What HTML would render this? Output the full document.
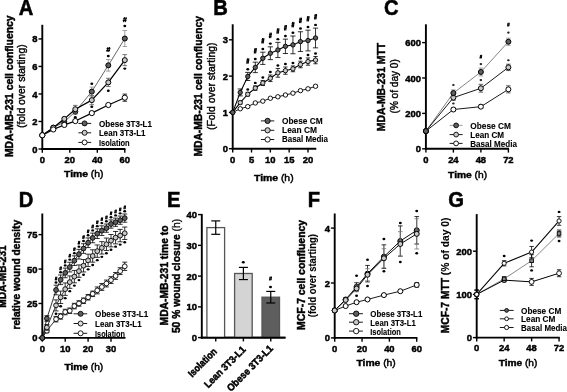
<!DOCTYPE html>
<html><head><meta charset="utf-8"><title>Figure</title>
<style>html,body{margin:0;padding:0;background:#fff;width:567px;height:392px;overflow:hidden}
svg{display:block;font-family:"Liberation Sans",sans-serif;filter:grayscale(1) blur(0.3px)}</style></head>
<body>
<svg width="567" height="392" viewBox="0 0 567 392" font-family='"Liberation Sans", sans-serif'>
<rect width="567" height="392" fill="#fff"/>
<text x="18.8" y="14.6" font-size="21.8" font-weight="bold" text-anchor="start" stroke="#000" stroke-width="0.55" textLength="14.58" lengthAdjust="spacingAndGlyphs" fill="#000">A</text>
<line x1="42.3" y1="24.8" x2="42.3" y2="149.95" stroke="#000" stroke-width="1.9"/>
<line x1="41.35" y1="149" x2="125.4" y2="149" stroke="#000" stroke-width="1.9"/>
<line x1="38.5" y1="149" x2="42.3" y2="149" stroke="#000" stroke-width="1.4"/>
<text x="37.5" y="152.56" font-size="9.5" font-weight="bold" text-anchor="end" stroke="#000" stroke-width="0.45" textLength="5.25" lengthAdjust="spacingAndGlyphs" fill="#000">0</text>
<line x1="38.5" y1="121.48" x2="42.3" y2="121.48" stroke="#000" stroke-width="1.4"/>
<text x="37.5" y="125.04" font-size="9.5" font-weight="bold" text-anchor="end" stroke="#000" stroke-width="0.45" textLength="5.25" lengthAdjust="spacingAndGlyphs" fill="#000">2</text>
<line x1="38.5" y1="93.96" x2="42.3" y2="93.96" stroke="#000" stroke-width="1.4"/>
<text x="37.5" y="97.52" font-size="9.5" font-weight="bold" text-anchor="end" stroke="#000" stroke-width="0.45" textLength="5.25" lengthAdjust="spacingAndGlyphs" fill="#000">4</text>
<line x1="38.5" y1="66.44" x2="42.3" y2="66.44" stroke="#000" stroke-width="1.4"/>
<text x="37.5" y="70" font-size="9.5" font-weight="bold" text-anchor="end" stroke="#000" stroke-width="0.45" textLength="5.25" lengthAdjust="spacingAndGlyphs" fill="#000">6</text>
<line x1="38.5" y1="38.92" x2="42.3" y2="38.92" stroke="#000" stroke-width="1.4"/>
<text x="37.5" y="42.48" font-size="9.5" font-weight="bold" text-anchor="end" stroke="#000" stroke-width="0.45" textLength="5.25" lengthAdjust="spacingAndGlyphs" fill="#000">8</text>
<line x1="42.3" y1="149" x2="42.3" y2="152.8" stroke="#000" stroke-width="1.4"/>
<text x="42.3" y="162.8" font-size="9.8" font-weight="bold" text-anchor="middle" stroke="#000" stroke-width="0.45" textLength="5.25" lengthAdjust="spacingAndGlyphs" fill="#000">0</text>
<line x1="69.8" y1="149" x2="69.8" y2="152.8" stroke="#000" stroke-width="1.4"/>
<text x="69.8" y="162.8" font-size="9.8" font-weight="bold" text-anchor="middle" stroke="#000" stroke-width="0.45" textLength="10.5" lengthAdjust="spacingAndGlyphs" fill="#000">20</text>
<line x1="97.3" y1="149" x2="97.3" y2="152.8" stroke="#000" stroke-width="1.4"/>
<text x="97.3" y="162.8" font-size="9.8" font-weight="bold" text-anchor="middle" stroke="#000" stroke-width="0.45" textLength="10.5" lengthAdjust="spacingAndGlyphs" fill="#000">40</text>
<line x1="124.8" y1="149" x2="124.8" y2="152.8" stroke="#000" stroke-width="1.4"/>
<text x="124.8" y="162.8" font-size="9.8" font-weight="bold" text-anchor="middle" stroke="#000" stroke-width="0.45" textLength="10.5" lengthAdjust="spacingAndGlyphs" fill="#000">60</text>
<text x="13.2" y="86.3" font-size="10.3" font-weight="bold" text-anchor="middle" stroke="#000" stroke-width="0.45" textLength="141.6" lengthAdjust="spacingAndGlyphs" transform="rotate(-90 13.2 86.3)" fill="#000">MDA-MB-231 cell confluency</text>
<text x="25.1" y="86.2" font-size="10.3" font-weight="normal" text-anchor="middle" stroke="#000" stroke-width="0.4" textLength="83.6" lengthAdjust="spacingAndGlyphs" transform="rotate(-90 25.1 86.2)" fill="#000">(fold over starting)</text>
<text x="83.8" y="176.8" font-size="9.6" text-anchor="middle" textLength="39.4" lengthAdjust="spacingAndGlyphs"><tspan font-weight="bold" stroke="#000" stroke-width="0.45">Time</tspan><tspan font-weight="normal" stroke="#000" stroke-width="0.45"> (h)</tspan></text>
<polyline points="42.3,135.24 53.3,127.67 64.3,121.89 75.3,111.57 91.8,91.62 108.3,65.34 124.8,38.51" fill="none" stroke="#222" stroke-width="0.7" stroke-linejoin="round"/>
<polyline points="42.3,135.24 53.3,127.67 64.3,118.87 75.3,109.23 91.8,100.15 108.3,82.4 124.8,60.11" fill="none" stroke="#000" stroke-width="1.3" stroke-linejoin="round"/>
<polyline points="42.3,135.24 53.3,129.46 64.3,124.92 75.3,121.07 91.8,113.09 108.3,104.97 124.8,97.68" fill="none" stroke="#000" stroke-width="1.2" stroke-linejoin="round"/>
<line x1="53.3" y1="126.57" x2="53.3" y2="128.77" stroke="#8a8a8a" stroke-width="0.8"/>
<line x1="51" y1="126.57" x2="55.6" y2="126.57" stroke="#8a8a8a" stroke-width="0.8"/>
<line x1="51" y1="128.77" x2="55.6" y2="128.77" stroke="#8a8a8a" stroke-width="0.8"/>
<line x1="64.3" y1="119.83" x2="64.3" y2="123.96" stroke="#8a8a8a" stroke-width="0.8"/>
<line x1="62" y1="119.83" x2="66.6" y2="119.83" stroke="#8a8a8a" stroke-width="0.8"/>
<line x1="62" y1="123.96" x2="66.6" y2="123.96" stroke="#8a8a8a" stroke-width="0.8"/>
<line x1="75.3" y1="108.82" x2="75.3" y2="114.32" stroke="#8a8a8a" stroke-width="0.8"/>
<line x1="73" y1="108.82" x2="77.6" y2="108.82" stroke="#8a8a8a" stroke-width="0.8"/>
<line x1="73" y1="114.32" x2="77.6" y2="114.32" stroke="#8a8a8a" stroke-width="0.8"/>
<line x1="91.8" y1="87.08" x2="91.8" y2="96.16" stroke="#8a8a8a" stroke-width="0.8"/>
<line x1="89.5" y1="87.08" x2="94.1" y2="87.08" stroke="#8a8a8a" stroke-width="0.8"/>
<line x1="89.5" y1="96.16" x2="94.1" y2="96.16" stroke="#8a8a8a" stroke-width="0.8"/>
<line x1="108.3" y1="59.56" x2="108.3" y2="71.12" stroke="#8a8a8a" stroke-width="0.8"/>
<line x1="106" y1="59.56" x2="110.6" y2="59.56" stroke="#8a8a8a" stroke-width="0.8"/>
<line x1="106" y1="71.12" x2="110.6" y2="71.12" stroke="#8a8a8a" stroke-width="0.8"/>
<line x1="124.8" y1="30.53" x2="124.8" y2="46.49" stroke="#8a8a8a" stroke-width="0.8"/>
<line x1="122.5" y1="30.53" x2="127.1" y2="30.53" stroke="#8a8a8a" stroke-width="0.8"/>
<line x1="122.5" y1="46.49" x2="127.1" y2="46.49" stroke="#8a8a8a" stroke-width="0.8"/>
<circle cx="42.3" cy="135.24" r="2.5" fill="#5f5f5f" stroke="#000" stroke-width="1"/>
<circle cx="53.3" cy="127.67" r="2.5" fill="#5f5f5f" stroke="#000" stroke-width="1"/>
<circle cx="64.3" cy="121.89" r="2.5" fill="#5f5f5f" stroke="#000" stroke-width="1"/>
<circle cx="75.3" cy="111.57" r="2.5" fill="#5f5f5f" stroke="#000" stroke-width="1"/>
<circle cx="91.8" cy="91.62" r="2.5" fill="#5f5f5f" stroke="#000" stroke-width="1"/>
<circle cx="108.3" cy="65.34" r="2.5" fill="#5f5f5f" stroke="#000" stroke-width="1"/>
<circle cx="124.8" cy="38.51" r="2.5" fill="#5f5f5f" stroke="#000" stroke-width="1"/>
<line x1="53.3" y1="126.57" x2="53.3" y2="128.77" stroke="#555" stroke-width="0.8"/>
<line x1="51" y1="126.57" x2="55.6" y2="126.57" stroke="#555" stroke-width="0.8"/>
<line x1="51" y1="128.77" x2="55.6" y2="128.77" stroke="#555" stroke-width="0.8"/>
<line x1="64.3" y1="117.21" x2="64.3" y2="120.52" stroke="#555" stroke-width="0.8"/>
<line x1="62" y1="117.21" x2="66.6" y2="117.21" stroke="#555" stroke-width="0.8"/>
<line x1="62" y1="120.52" x2="66.6" y2="120.52" stroke="#555" stroke-width="0.8"/>
<line x1="75.3" y1="105.38" x2="75.3" y2="113.09" stroke="#555" stroke-width="0.8"/>
<line x1="73" y1="105.38" x2="77.6" y2="105.38" stroke="#555" stroke-width="0.8"/>
<line x1="73" y1="113.09" x2="77.6" y2="113.09" stroke="#555" stroke-width="0.8"/>
<line x1="91.8" y1="95.61" x2="91.8" y2="104.69" stroke="#555" stroke-width="0.8"/>
<line x1="89.5" y1="95.61" x2="94.1" y2="95.61" stroke="#555" stroke-width="0.8"/>
<line x1="89.5" y1="104.69" x2="94.1" y2="104.69" stroke="#555" stroke-width="0.8"/>
<line x1="108.3" y1="78.27" x2="108.3" y2="86.53" stroke="#555" stroke-width="0.8"/>
<line x1="106" y1="78.27" x2="110.6" y2="78.27" stroke="#555" stroke-width="0.8"/>
<line x1="106" y1="86.53" x2="110.6" y2="86.53" stroke="#555" stroke-width="0.8"/>
<line x1="124.8" y1="54.61" x2="124.8" y2="65.61" stroke="#555" stroke-width="0.8"/>
<line x1="122.5" y1="54.61" x2="127.1" y2="54.61" stroke="#555" stroke-width="0.8"/>
<line x1="122.5" y1="65.61" x2="127.1" y2="65.61" stroke="#555" stroke-width="0.8"/>
<circle cx="42.3" cy="135.24" r="2.5" fill="#c8c8c8" stroke="#000" stroke-width="1"/>
<circle cx="53.3" cy="127.67" r="2.5" fill="#c8c8c8" stroke="#000" stroke-width="1"/>
<circle cx="64.3" cy="118.87" r="2.5" fill="#c8c8c8" stroke="#000" stroke-width="1"/>
<circle cx="75.3" cy="109.23" r="2.5" fill="#c8c8c8" stroke="#000" stroke-width="1"/>
<circle cx="91.8" cy="100.15" r="2.5" fill="#c8c8c8" stroke="#000" stroke-width="1"/>
<circle cx="108.3" cy="82.4" r="2.5" fill="#c8c8c8" stroke="#000" stroke-width="1"/>
<circle cx="124.8" cy="60.11" r="2.5" fill="#c8c8c8" stroke="#000" stroke-width="1"/>
<line x1="53.3" y1="128.77" x2="53.3" y2="130.15" stroke="#000" stroke-width="0.8"/>
<line x1="51" y1="128.77" x2="55.6" y2="128.77" stroke="#000" stroke-width="0.8"/>
<line x1="51" y1="130.15" x2="55.6" y2="130.15" stroke="#000" stroke-width="0.8"/>
<line x1="64.3" y1="124.09" x2="64.3" y2="125.75" stroke="#000" stroke-width="0.8"/>
<line x1="62" y1="124.09" x2="66.6" y2="124.09" stroke="#000" stroke-width="0.8"/>
<line x1="62" y1="125.75" x2="66.6" y2="125.75" stroke="#000" stroke-width="0.8"/>
<line x1="75.3" y1="119.97" x2="75.3" y2="122.17" stroke="#000" stroke-width="0.8"/>
<line x1="73" y1="119.97" x2="77.6" y2="119.97" stroke="#000" stroke-width="0.8"/>
<line x1="73" y1="122.17" x2="77.6" y2="122.17" stroke="#000" stroke-width="0.8"/>
<line x1="91.8" y1="111.99" x2="91.8" y2="114.19" stroke="#000" stroke-width="0.8"/>
<line x1="89.5" y1="111.99" x2="94.1" y2="111.99" stroke="#000" stroke-width="0.8"/>
<line x1="89.5" y1="114.19" x2="94.1" y2="114.19" stroke="#000" stroke-width="0.8"/>
<line x1="108.3" y1="103.59" x2="108.3" y2="106.34" stroke="#000" stroke-width="0.8"/>
<line x1="106" y1="103.59" x2="110.6" y2="103.59" stroke="#000" stroke-width="0.8"/>
<line x1="106" y1="106.34" x2="110.6" y2="106.34" stroke="#000" stroke-width="0.8"/>
<line x1="124.8" y1="94.1" x2="124.8" y2="101.25" stroke="#000" stroke-width="0.8"/>
<line x1="122.5" y1="94.1" x2="127.1" y2="94.1" stroke="#000" stroke-width="0.8"/>
<line x1="122.5" y1="101.25" x2="127.1" y2="101.25" stroke="#000" stroke-width="0.8"/>
<circle cx="42.3" cy="135.24" r="2.6" fill="#ffffff" stroke="#000" stroke-width="1"/>
<circle cx="53.3" cy="129.46" r="2.6" fill="#ffffff" stroke="#000" stroke-width="1"/>
<circle cx="64.3" cy="124.92" r="2.6" fill="#ffffff" stroke="#000" stroke-width="1"/>
<circle cx="75.3" cy="121.07" r="2.6" fill="#ffffff" stroke="#000" stroke-width="1"/>
<circle cx="91.8" cy="113.09" r="2.6" fill="#ffffff" stroke="#000" stroke-width="1"/>
<circle cx="108.3" cy="104.97" r="2.6" fill="#ffffff" stroke="#000" stroke-width="1"/>
<circle cx="124.8" cy="97.68" r="2.6" fill="#ffffff" stroke="#000" stroke-width="1"/>
<ellipse cx="75.3" cy="117.2" rx="1.45" ry="1.2" fill="#000"/>
<ellipse cx="91.8" cy="83.8" rx="1.45" ry="1.2" fill="#000"/>
<ellipse cx="91.8" cy="106.8" rx="1.45" ry="1.2" fill="#000"/>
<path d="M108 47L107 52M109.7 47L108.7 52M106.6 48.65L110.4 48.65M106.2 50.45L110 50.45" stroke="#000" stroke-width="1.1" fill="none"/>
<ellipse cx="108.3" cy="56" rx="1.45" ry="1.2" fill="#000"/>
<ellipse cx="108.3" cy="90.7" rx="1.45" ry="1.2" fill="#000"/>
<path d="M124.5 17.1L123.5 22.1M126.2 17.1L125.2 22.1M123.1 18.75L126.9 18.75M122.7 20.55L126.5 20.55" stroke="#000" stroke-width="1.1" fill="none"/>
<ellipse cx="124.8" cy="26" rx="1.45" ry="1.2" fill="#000"/>
<ellipse cx="124.8" cy="68.6" rx="1.45" ry="1.2" fill="#000"/>
<line x1="78.4" y1="123.4" x2="91.2" y2="123.4" stroke="#000" stroke-width="0.9"/>
<circle cx="84.6" cy="123.4" r="2.5" fill="#5f5f5f" stroke="#000" stroke-width="0.9"/>
<text x="98.9" y="126.96" font-size="8.7" font-weight="bold" text-anchor="start" stroke="#000" stroke-width="0.1" textLength="53.2" lengthAdjust="spacingAndGlyphs" fill="#000">Obese 3T3-L1</text>
<line x1="78.4" y1="132.8" x2="91.2" y2="132.8" stroke="#000" stroke-width="0.9"/>
<circle cx="84.6" cy="132.8" r="2.5" fill="#c8c8c8" stroke="#000" stroke-width="0.9"/>
<text x="98.9" y="136.36" font-size="8.7" font-weight="bold" text-anchor="start" stroke="#000" stroke-width="0.1" textLength="46.6" lengthAdjust="spacingAndGlyphs" fill="#000">Lean 3T3-L1</text>
<line x1="78.4" y1="142.4" x2="91.2" y2="142.4" stroke="#000" stroke-width="0.9"/>
<circle cx="84.6" cy="142.4" r="2.5" fill="#ffffff" stroke="#000" stroke-width="0.9"/>
<text x="98.9" y="145.96" font-size="8.7" font-weight="bold" text-anchor="start" stroke="#000" stroke-width="0.1" textLength="30.8" lengthAdjust="spacingAndGlyphs" fill="#000">Isolation</text>
<text x="213.15" y="14.8" font-size="21.8" font-weight="bold" text-anchor="start" stroke="#000" stroke-width="0.55" textLength="14.58" lengthAdjust="spacingAndGlyphs" fill="#000">B</text>
<line x1="232.7" y1="24.3" x2="232.7" y2="149.65" stroke="#000" stroke-width="1.9"/>
<line x1="231.75" y1="148.7" x2="316.3" y2="148.7" stroke="#000" stroke-width="1.9"/>
<line x1="228.9" y1="148.7" x2="232.7" y2="148.7" stroke="#000" stroke-width="1.4"/>
<text x="227.9" y="152.26" font-size="9.5" font-weight="bold" text-anchor="end" stroke="#000" stroke-width="0.45" textLength="5.25" lengthAdjust="spacingAndGlyphs" fill="#000">0</text>
<line x1="228.9" y1="112.4" x2="232.7" y2="112.4" stroke="#000" stroke-width="1.4"/>
<text x="227.9" y="115.96" font-size="9.5" font-weight="bold" text-anchor="end" stroke="#000" stroke-width="0.45" textLength="5.25" lengthAdjust="spacingAndGlyphs" fill="#000">1</text>
<line x1="228.9" y1="76.1" x2="232.7" y2="76.1" stroke="#000" stroke-width="1.4"/>
<text x="227.9" y="79.66" font-size="9.5" font-weight="bold" text-anchor="end" stroke="#000" stroke-width="0.45" textLength="5.25" lengthAdjust="spacingAndGlyphs" fill="#000">2</text>
<line x1="228.9" y1="39.8" x2="232.7" y2="39.8" stroke="#000" stroke-width="1.4"/>
<text x="227.9" y="43.36" font-size="9.5" font-weight="bold" text-anchor="end" stroke="#000" stroke-width="0.45" textLength="5.25" lengthAdjust="spacingAndGlyphs" fill="#000">3</text>
<line x1="232.7" y1="148.7" x2="232.7" y2="152.5" stroke="#000" stroke-width="1.4"/>
<text x="232.7" y="162.5" font-size="9.8" font-weight="bold" text-anchor="middle" stroke="#000" stroke-width="0.45" textLength="5.25" lengthAdjust="spacingAndGlyphs" fill="#000">0</text>
<line x1="251.52" y1="148.7" x2="251.52" y2="152.5" stroke="#000" stroke-width="1.4"/>
<text x="251.52" y="162.5" font-size="9.8" font-weight="bold" text-anchor="middle" stroke="#000" stroke-width="0.45" textLength="5.25" lengthAdjust="spacingAndGlyphs" fill="#000">5</text>
<line x1="270.35" y1="148.7" x2="270.35" y2="152.5" stroke="#000" stroke-width="1.4"/>
<text x="270.35" y="162.5" font-size="9.8" font-weight="bold" text-anchor="middle" stroke="#000" stroke-width="0.45" textLength="10.5" lengthAdjust="spacingAndGlyphs" fill="#000">10</text>
<line x1="289.18" y1="148.7" x2="289.18" y2="152.5" stroke="#000" stroke-width="1.4"/>
<text x="289.18" y="162.5" font-size="9.8" font-weight="bold" text-anchor="middle" stroke="#000" stroke-width="0.45" textLength="10.5" lengthAdjust="spacingAndGlyphs" fill="#000">15</text>
<line x1="308" y1="148.7" x2="308" y2="152.5" stroke="#000" stroke-width="1.4"/>
<text x="308" y="162.5" font-size="9.8" font-weight="bold" text-anchor="middle" stroke="#000" stroke-width="0.45" textLength="10.5" lengthAdjust="spacingAndGlyphs" fill="#000">20</text>
<text x="202.5" y="86.35" font-size="10.3" font-weight="bold" text-anchor="middle" stroke="#000" stroke-width="0.45" textLength="140.5" lengthAdjust="spacingAndGlyphs" transform="rotate(-90 202.5 86.35)" fill="#000">MDA-MB-231 cell confluency</text>
<text x="215.1" y="86.25" font-size="10.3" font-weight="normal" text-anchor="middle" stroke="#000" stroke-width="0.4" textLength="87.6" lengthAdjust="spacingAndGlyphs" transform="rotate(-90 215.1 86.25)" fill="#000">(Fold over starting)</text>
<text x="273.8" y="180.6" font-size="9.7" text-anchor="middle" textLength="39.6" lengthAdjust="spacingAndGlyphs"><tspan font-weight="bold" stroke="#000" stroke-width="0.45">Time</tspan><tspan font-weight="normal" stroke="#000" stroke-width="0.45"> (h)</tspan></text>
<polyline points="232.7,112.4 240.23,92.43 247.76,76.46 255.29,67.39 262.82,58.31 270.35,53.23 277.88,49.96 285.41,46.33 292.94,44.88 300.47,41.61 308,40.53 315.53,37.98" fill="none" stroke="#000" stroke-width="1.1" stroke-linejoin="round"/>
<polyline points="232.7,112.4 240.23,102.6 247.76,94.25 255.29,88.08 262.82,83 270.35,78.28 277.88,72.83 285.41,70.66 292.94,68.84 300.47,64.48 308,61.58 315.53,60.13" fill="none" stroke="#000" stroke-width="1.1" stroke-linejoin="round"/>
<polyline points="232.7,112.4 240.23,108.77 247.76,106.59 255.29,102.96 262.82,101.15 270.35,98.24 277.88,96.79 285.41,94.98 292.94,93.16 300.47,90.62 308,88.81 315.53,86.26" fill="none" stroke="#000" stroke-width="0.9" stroke-linejoin="round"/>
<line x1="240.23" y1="108.04" x2="240.23" y2="109.5" stroke="#000" stroke-width="0.8"/>
<line x1="238.03" y1="108.04" x2="242.43" y2="108.04" stroke="#000" stroke-width="0.8"/>
<line x1="238.03" y1="109.5" x2="242.43" y2="109.5" stroke="#000" stroke-width="0.8"/>
<line x1="247.76" y1="105.87" x2="247.76" y2="107.32" stroke="#000" stroke-width="0.8"/>
<line x1="245.56" y1="105.87" x2="249.96" y2="105.87" stroke="#000" stroke-width="0.8"/>
<line x1="245.56" y1="107.32" x2="249.96" y2="107.32" stroke="#000" stroke-width="0.8"/>
<line x1="255.29" y1="102.24" x2="255.29" y2="103.69" stroke="#000" stroke-width="0.8"/>
<line x1="253.09" y1="102.24" x2="257.49" y2="102.24" stroke="#000" stroke-width="0.8"/>
<line x1="253.09" y1="103.69" x2="257.49" y2="103.69" stroke="#000" stroke-width="0.8"/>
<line x1="262.82" y1="100.42" x2="262.82" y2="101.87" stroke="#000" stroke-width="0.8"/>
<line x1="260.62" y1="100.42" x2="265.02" y2="100.42" stroke="#000" stroke-width="0.8"/>
<line x1="260.62" y1="101.87" x2="265.02" y2="101.87" stroke="#000" stroke-width="0.8"/>
<line x1="270.35" y1="97.52" x2="270.35" y2="98.97" stroke="#000" stroke-width="0.8"/>
<line x1="268.15" y1="97.52" x2="272.55" y2="97.52" stroke="#000" stroke-width="0.8"/>
<line x1="268.15" y1="98.97" x2="272.55" y2="98.97" stroke="#000" stroke-width="0.8"/>
<line x1="277.88" y1="96.06" x2="277.88" y2="97.52" stroke="#000" stroke-width="0.8"/>
<line x1="275.68" y1="96.06" x2="280.08" y2="96.06" stroke="#000" stroke-width="0.8"/>
<line x1="275.68" y1="97.52" x2="280.08" y2="97.52" stroke="#000" stroke-width="0.8"/>
<line x1="285.41" y1="94.25" x2="285.41" y2="95.7" stroke="#000" stroke-width="0.8"/>
<line x1="283.21" y1="94.25" x2="287.61" y2="94.25" stroke="#000" stroke-width="0.8"/>
<line x1="283.21" y1="95.7" x2="287.61" y2="95.7" stroke="#000" stroke-width="0.8"/>
<line x1="292.94" y1="92.43" x2="292.94" y2="93.89" stroke="#000" stroke-width="0.8"/>
<line x1="290.74" y1="92.43" x2="295.14" y2="92.43" stroke="#000" stroke-width="0.8"/>
<line x1="290.74" y1="93.89" x2="295.14" y2="93.89" stroke="#000" stroke-width="0.8"/>
<line x1="300.47" y1="89.89" x2="300.47" y2="91.35" stroke="#000" stroke-width="0.8"/>
<line x1="298.27" y1="89.89" x2="302.67" y2="89.89" stroke="#000" stroke-width="0.8"/>
<line x1="298.27" y1="91.35" x2="302.67" y2="91.35" stroke="#000" stroke-width="0.8"/>
<line x1="308" y1="88.08" x2="308" y2="89.53" stroke="#000" stroke-width="0.8"/>
<line x1="305.8" y1="88.08" x2="310.2" y2="88.08" stroke="#000" stroke-width="0.8"/>
<line x1="305.8" y1="89.53" x2="310.2" y2="89.53" stroke="#000" stroke-width="0.8"/>
<line x1="315.53" y1="85.17" x2="315.53" y2="87.35" stroke="#000" stroke-width="0.8"/>
<line x1="313.33" y1="85.17" x2="317.73" y2="85.17" stroke="#000" stroke-width="0.8"/>
<line x1="313.33" y1="87.35" x2="317.73" y2="87.35" stroke="#000" stroke-width="0.8"/>
<circle cx="232.7" cy="112.4" r="2.2" fill="#ffffff" stroke="#000" stroke-width="0.9"/>
<circle cx="240.23" cy="108.77" r="2.2" fill="#ffffff" stroke="#000" stroke-width="0.9"/>
<circle cx="247.76" cy="106.59" r="2.2" fill="#ffffff" stroke="#000" stroke-width="0.9"/>
<circle cx="255.29" cy="102.96" r="2.2" fill="#ffffff" stroke="#000" stroke-width="0.9"/>
<circle cx="262.82" cy="101.15" r="2.2" fill="#ffffff" stroke="#000" stroke-width="0.9"/>
<circle cx="270.35" cy="98.24" r="2.2" fill="#ffffff" stroke="#000" stroke-width="0.9"/>
<circle cx="277.88" cy="96.79" r="2.2" fill="#ffffff" stroke="#000" stroke-width="0.9"/>
<circle cx="285.41" cy="94.98" r="2.2" fill="#ffffff" stroke="#000" stroke-width="0.9"/>
<circle cx="292.94" cy="93.16" r="2.2" fill="#ffffff" stroke="#000" stroke-width="0.9"/>
<circle cx="300.47" cy="90.62" r="2.2" fill="#ffffff" stroke="#000" stroke-width="0.9"/>
<circle cx="308" cy="88.81" r="2.2" fill="#ffffff" stroke="#000" stroke-width="0.9"/>
<circle cx="315.53" cy="86.26" r="2.2" fill="#ffffff" stroke="#000" stroke-width="0.9"/>
<line x1="240.23" y1="101.15" x2="240.23" y2="104.05" stroke="#000" stroke-width="0.8"/>
<line x1="238.03" y1="101.15" x2="242.43" y2="101.15" stroke="#000" stroke-width="0.8"/>
<line x1="238.03" y1="104.05" x2="242.43" y2="104.05" stroke="#000" stroke-width="0.8"/>
<line x1="247.76" y1="92.43" x2="247.76" y2="96.06" stroke="#000" stroke-width="0.8"/>
<line x1="245.56" y1="92.43" x2="249.96" y2="92.43" stroke="#000" stroke-width="0.8"/>
<line x1="245.56" y1="96.06" x2="249.96" y2="96.06" stroke="#000" stroke-width="0.8"/>
<line x1="255.29" y1="85.9" x2="255.29" y2="90.26" stroke="#000" stroke-width="0.8"/>
<line x1="253.09" y1="85.9" x2="257.49" y2="85.9" stroke="#000" stroke-width="0.8"/>
<line x1="253.09" y1="90.26" x2="257.49" y2="90.26" stroke="#000" stroke-width="0.8"/>
<line x1="262.82" y1="80.46" x2="262.82" y2="85.54" stroke="#000" stroke-width="0.8"/>
<line x1="260.62" y1="80.46" x2="265.02" y2="80.46" stroke="#000" stroke-width="0.8"/>
<line x1="260.62" y1="85.54" x2="265.02" y2="85.54" stroke="#000" stroke-width="0.8"/>
<line x1="270.35" y1="75.01" x2="270.35" y2="81.55" stroke="#000" stroke-width="0.8"/>
<line x1="268.15" y1="75.01" x2="272.55" y2="75.01" stroke="#000" stroke-width="0.8"/>
<line x1="268.15" y1="81.55" x2="272.55" y2="81.55" stroke="#000" stroke-width="0.8"/>
<line x1="277.88" y1="68.48" x2="277.88" y2="77.19" stroke="#000" stroke-width="0.8"/>
<line x1="275.68" y1="68.48" x2="280.08" y2="68.48" stroke="#000" stroke-width="0.8"/>
<line x1="275.68" y1="77.19" x2="280.08" y2="77.19" stroke="#000" stroke-width="0.8"/>
<line x1="285.41" y1="67.02" x2="285.41" y2="74.28" stroke="#000" stroke-width="0.8"/>
<line x1="283.21" y1="67.02" x2="287.61" y2="67.02" stroke="#000" stroke-width="0.8"/>
<line x1="283.21" y1="74.28" x2="287.61" y2="74.28" stroke="#000" stroke-width="0.8"/>
<line x1="292.94" y1="65.94" x2="292.94" y2="71.74" stroke="#000" stroke-width="0.8"/>
<line x1="290.74" y1="65.94" x2="295.14" y2="65.94" stroke="#000" stroke-width="0.8"/>
<line x1="290.74" y1="71.74" x2="295.14" y2="71.74" stroke="#000" stroke-width="0.8"/>
<line x1="300.47" y1="61.22" x2="300.47" y2="67.75" stroke="#000" stroke-width="0.8"/>
<line x1="298.27" y1="61.22" x2="302.67" y2="61.22" stroke="#000" stroke-width="0.8"/>
<line x1="298.27" y1="67.75" x2="302.67" y2="67.75" stroke="#000" stroke-width="0.8"/>
<line x1="308" y1="57.95" x2="308" y2="65.21" stroke="#000" stroke-width="0.8"/>
<line x1="305.8" y1="57.95" x2="310.2" y2="57.95" stroke="#000" stroke-width="0.8"/>
<line x1="305.8" y1="65.21" x2="310.2" y2="65.21" stroke="#000" stroke-width="0.8"/>
<line x1="315.53" y1="56.5" x2="315.53" y2="63.76" stroke="#000" stroke-width="0.8"/>
<line x1="313.33" y1="56.5" x2="317.73" y2="56.5" stroke="#000" stroke-width="0.8"/>
<line x1="313.33" y1="63.76" x2="317.73" y2="63.76" stroke="#000" stroke-width="0.8"/>
<circle cx="232.7" cy="112.4" r="2.2" fill="#c8c8c8" stroke="#000" stroke-width="0.9"/>
<circle cx="240.23" cy="102.6" r="2.2" fill="#c8c8c8" stroke="#000" stroke-width="0.9"/>
<circle cx="247.76" cy="94.25" r="2.2" fill="#c8c8c8" stroke="#000" stroke-width="0.9"/>
<circle cx="255.29" cy="88.08" r="2.2" fill="#c8c8c8" stroke="#000" stroke-width="0.9"/>
<circle cx="262.82" cy="83" r="2.2" fill="#c8c8c8" stroke="#000" stroke-width="0.9"/>
<circle cx="270.35" cy="78.28" r="2.2" fill="#c8c8c8" stroke="#000" stroke-width="0.9"/>
<circle cx="277.88" cy="72.83" r="2.2" fill="#c8c8c8" stroke="#000" stroke-width="0.9"/>
<circle cx="285.41" cy="70.66" r="2.2" fill="#c8c8c8" stroke="#000" stroke-width="0.9"/>
<circle cx="292.94" cy="68.84" r="2.2" fill="#c8c8c8" stroke="#000" stroke-width="0.9"/>
<circle cx="300.47" cy="64.48" r="2.2" fill="#c8c8c8" stroke="#000" stroke-width="0.9"/>
<circle cx="308" cy="61.58" r="2.2" fill="#c8c8c8" stroke="#000" stroke-width="0.9"/>
<circle cx="315.53" cy="60.13" r="2.2" fill="#c8c8c8" stroke="#000" stroke-width="0.9"/>
<line x1="240.23" y1="88.98" x2="240.23" y2="95.89" stroke="#000" stroke-width="0.8"/>
<line x1="237.63" y1="88.98" x2="242.83" y2="88.98" stroke="#000" stroke-width="0.8"/>
<line x1="237.63" y1="95.89" x2="242.83" y2="95.89" stroke="#000" stroke-width="0.8"/>
<line x1="247.76" y1="72.42" x2="247.76" y2="80.51" stroke="#000" stroke-width="0.8"/>
<line x1="245.16" y1="72.42" x2="250.36" y2="72.42" stroke="#000" stroke-width="0.8"/>
<line x1="245.16" y1="80.51" x2="250.36" y2="80.51" stroke="#000" stroke-width="0.8"/>
<line x1="255.29" y1="62.16" x2="255.29" y2="72.62" stroke="#000" stroke-width="0.8"/>
<line x1="252.69" y1="62.16" x2="257.89" y2="62.16" stroke="#000" stroke-width="0.8"/>
<line x1="252.69" y1="72.62" x2="257.89" y2="72.62" stroke="#000" stroke-width="0.8"/>
<line x1="262.82" y1="52.2" x2="262.82" y2="64.43" stroke="#000" stroke-width="0.8"/>
<line x1="260.22" y1="52.2" x2="265.42" y2="52.2" stroke="#000" stroke-width="0.8"/>
<line x1="260.22" y1="64.43" x2="265.42" y2="64.43" stroke="#000" stroke-width="0.8"/>
<line x1="270.35" y1="46.82" x2="270.35" y2="59.64" stroke="#000" stroke-width="0.8"/>
<line x1="267.75" y1="46.82" x2="272.95" y2="46.82" stroke="#000" stroke-width="0.8"/>
<line x1="267.75" y1="59.64" x2="272.95" y2="59.64" stroke="#000" stroke-width="0.8"/>
<line x1="277.88" y1="42.37" x2="277.88" y2="57.56" stroke="#000" stroke-width="0.8"/>
<line x1="275.28" y1="42.37" x2="280.48" y2="42.37" stroke="#000" stroke-width="0.8"/>
<line x1="275.28" y1="57.56" x2="280.48" y2="57.56" stroke="#000" stroke-width="0.8"/>
<line x1="285.41" y1="39.13" x2="285.41" y2="53.53" stroke="#000" stroke-width="0.8"/>
<line x1="282.81" y1="39.13" x2="288.01" y2="39.13" stroke="#000" stroke-width="0.8"/>
<line x1="282.81" y1="53.53" x2="288.01" y2="53.53" stroke="#000" stroke-width="0.8"/>
<line x1="292.94" y1="36" x2="292.94" y2="53.76" stroke="#000" stroke-width="0.8"/>
<line x1="290.34" y1="36" x2="295.54" y2="36" stroke="#000" stroke-width="0.8"/>
<line x1="290.34" y1="53.76" x2="295.54" y2="53.76" stroke="#000" stroke-width="0.8"/>
<line x1="300.47" y1="31.75" x2="300.47" y2="51.48" stroke="#000" stroke-width="0.8"/>
<line x1="297.87" y1="31.75" x2="303.07" y2="31.75" stroke="#000" stroke-width="0.8"/>
<line x1="297.87" y1="51.48" x2="303.07" y2="51.48" stroke="#000" stroke-width="0.8"/>
<line x1="308" y1="30.17" x2="308" y2="50.88" stroke="#000" stroke-width="0.8"/>
<line x1="305.4" y1="30.17" x2="310.6" y2="30.17" stroke="#000" stroke-width="0.8"/>
<line x1="305.4" y1="50.88" x2="310.6" y2="50.88" stroke="#000" stroke-width="0.8"/>
<line x1="315.53" y1="28.12" x2="315.53" y2="47.85" stroke="#000" stroke-width="0.8"/>
<line x1="312.93" y1="28.12" x2="318.13" y2="28.12" stroke="#000" stroke-width="0.8"/>
<line x1="312.93" y1="47.85" x2="318.13" y2="47.85" stroke="#000" stroke-width="0.8"/>
<circle cx="232.7" cy="112.4" r="2.2" fill="#5f5f5f" stroke="#000" stroke-width="0.9"/>
<circle cx="240.23" cy="92.43" r="2.2" fill="#5f5f5f" stroke="#000" stroke-width="0.9"/>
<circle cx="247.76" cy="76.46" r="2.2" fill="#5f5f5f" stroke="#000" stroke-width="0.9"/>
<circle cx="255.29" cy="67.39" r="2.2" fill="#5f5f5f" stroke="#000" stroke-width="0.9"/>
<circle cx="262.82" cy="58.31" r="2.2" fill="#5f5f5f" stroke="#000" stroke-width="0.9"/>
<circle cx="270.35" cy="53.23" r="2.2" fill="#5f5f5f" stroke="#000" stroke-width="0.9"/>
<circle cx="277.88" cy="49.96" r="2.2" fill="#5f5f5f" stroke="#000" stroke-width="0.9"/>
<circle cx="285.41" cy="46.33" r="2.2" fill="#5f5f5f" stroke="#000" stroke-width="0.9"/>
<circle cx="292.94" cy="44.88" r="2.2" fill="#5f5f5f" stroke="#000" stroke-width="0.9"/>
<circle cx="300.47" cy="41.61" r="2.2" fill="#5f5f5f" stroke="#000" stroke-width="0.9"/>
<circle cx="308" cy="40.53" r="2.2" fill="#5f5f5f" stroke="#000" stroke-width="0.9"/>
<circle cx="315.53" cy="37.98" r="2.2" fill="#5f5f5f" stroke="#000" stroke-width="0.9"/>
<ellipse cx="247.76" cy="69.22" rx="1.45" ry="1.2" fill="#000"/>
<path d="M247.53 58.27L246.78 63.77M248.81 58.27L248.06 63.77M246.48 60.08L249.33 60.08M246.19 62.06L249.03 62.06" stroke="#000" stroke-width="1.1" fill="none"/>
<ellipse cx="255.29" cy="58.96" rx="1.45" ry="1.2" fill="#000"/>
<path d="M255.06 48.01L254.31 53.51M256.34 48.01L255.59 53.51M254.01 49.83L256.87 49.83M253.72 51.81L256.56 51.81" stroke="#000" stroke-width="1.1" fill="none"/>
<ellipse cx="262.82" cy="49" rx="1.45" ry="1.2" fill="#000"/>
<path d="M262.59 38.05L261.84 43.55M263.87 38.05L263.12 43.55M261.55 39.86L264.39 39.86M261.25 41.84L264.09 41.84" stroke="#000" stroke-width="1.1" fill="none"/>
<ellipse cx="270.35" cy="43.62" rx="1.45" ry="1.2" fill="#000"/>
<path d="M270.12 32.67L269.37 38.17M271.4 32.67L270.65 38.17M269.07 34.48L271.92 34.48M268.77 36.46L271.62 36.46" stroke="#000" stroke-width="1.1" fill="none"/>
<ellipse cx="277.88" cy="39.17" rx="1.45" ry="1.2" fill="#000"/>
<path d="M277.65 28.22L276.9 33.72M278.93 28.22L278.18 33.72M276.61 30.03L279.45 30.03M276.31 32.01L279.15 32.01" stroke="#000" stroke-width="1.1" fill="none"/>
<ellipse cx="285.41" cy="35.93" rx="1.45" ry="1.2" fill="#000"/>
<path d="M285.18 24.98L284.43 30.48M286.46 24.98L285.71 30.48M284.13 26.8L286.98 26.8M283.83 28.78L286.68 28.78" stroke="#000" stroke-width="1.1" fill="none"/>
<ellipse cx="292.94" cy="32.8" rx="1.45" ry="1.2" fill="#000"/>
<path d="M292.71 21.85L291.96 27.35M293.99 21.85L293.24 27.35M291.67 23.67L294.51 23.67M291.37 25.65L294.21 25.65" stroke="#000" stroke-width="1.1" fill="none"/>
<ellipse cx="300.47" cy="28.55" rx="1.45" ry="1.2" fill="#000"/>
<path d="M300.24 17.6L299.49 23.1M301.52 17.6L300.77 23.1M299.19 19.42L302.04 19.42M298.89 21.4L301.74 21.4" stroke="#000" stroke-width="1.1" fill="none"/>
<ellipse cx="308" cy="26.97" rx="1.45" ry="1.2" fill="#000"/>
<path d="M307.77 16.02L307.02 21.52M309.05 16.02L308.3 21.52M306.73 17.83L309.57 17.83M306.43 19.81L309.27 19.81" stroke="#000" stroke-width="1.1" fill="none"/>
<ellipse cx="315.53" cy="24.92" rx="1.45" ry="1.2" fill="#000"/>
<path d="M315.3 13.97L314.55 19.47M316.58 13.97L315.83 19.47M314.25 15.79L317.1 15.79M313.95 17.77L316.8 17.77" stroke="#000" stroke-width="1.1" fill="none"/>
<ellipse cx="247.76" cy="89.43" rx="1.45" ry="1.2" fill="#000"/>
<ellipse cx="255.29" cy="82.9" rx="1.45" ry="1.2" fill="#000"/>
<ellipse cx="262.82" cy="77.46" rx="1.45" ry="1.2" fill="#000"/>
<ellipse cx="270.35" cy="72.01" rx="1.45" ry="1.2" fill="#000"/>
<ellipse cx="277.88" cy="65.48" rx="1.45" ry="1.2" fill="#000"/>
<ellipse cx="285.41" cy="64.02" rx="1.45" ry="1.2" fill="#000"/>
<ellipse cx="292.94" cy="62.94" rx="1.45" ry="1.2" fill="#000"/>
<ellipse cx="300.47" cy="58.22" rx="1.45" ry="1.2" fill="#000"/>
<ellipse cx="308" cy="54.95" rx="1.45" ry="1.2" fill="#000"/>
<ellipse cx="315.53" cy="53.5" rx="1.45" ry="1.2" fill="#000"/>
<line x1="260.9" y1="120.9" x2="274.3" y2="120.9" stroke="#000" stroke-width="0.9"/>
<circle cx="267.6" cy="120.9" r="2.6" fill="#5f5f5f" stroke="#000" stroke-width="0.9"/>
<text x="282" y="123.72" font-size="8.3" font-weight="bold" text-anchor="start" stroke="#000" stroke-width="0.1" textLength="40.6" lengthAdjust="spacingAndGlyphs" fill="#000">Obese CM</text>
<line x1="260.9" y1="130.3" x2="274.3" y2="130.3" stroke="#000" stroke-width="0.9"/>
<circle cx="267.6" cy="130.3" r="2.6" fill="#c8c8c8" stroke="#000" stroke-width="0.9"/>
<text x="282" y="133.12" font-size="8.3" font-weight="bold" text-anchor="start" stroke="#000" stroke-width="0.1" textLength="35" lengthAdjust="spacingAndGlyphs" fill="#000">Lean CM</text>
<line x1="260.9" y1="139.5" x2="274.3" y2="139.5" stroke="#000" stroke-width="0.9"/>
<circle cx="267.6" cy="139.5" r="2.6" fill="#ffffff" stroke="#000" stroke-width="0.9"/>
<text x="282" y="142.32" font-size="8.3" font-weight="bold" text-anchor="start" stroke="#000" stroke-width="0.1" textLength="45.9" lengthAdjust="spacingAndGlyphs" fill="#000">Basal Media</text>
<text x="383.97" y="14.6" font-size="21.8" font-weight="bold" text-anchor="start" stroke="#000" stroke-width="0.55" textLength="14.58" lengthAdjust="spacingAndGlyphs" fill="#000">C</text>
<line x1="425.9" y1="24.3" x2="425.9" y2="149.75" stroke="#000" stroke-width="1.9"/>
<line x1="424.95" y1="148.8" x2="509.1" y2="148.8" stroke="#000" stroke-width="1.9"/>
<line x1="422.1" y1="148.8" x2="425.9" y2="148.8" stroke="#000" stroke-width="1.4"/>
<text x="421.1" y="152.36" font-size="9.5" font-weight="bold" text-anchor="end" stroke="#000" stroke-width="0.45" textLength="5.25" lengthAdjust="spacingAndGlyphs" fill="#000">0</text>
<line x1="422.1" y1="113.4" x2="425.9" y2="113.4" stroke="#000" stroke-width="1.4"/>
<text x="421.1" y="116.96" font-size="9.5" font-weight="bold" text-anchor="end" stroke="#000" stroke-width="0.45" textLength="15.75" lengthAdjust="spacingAndGlyphs" fill="#000">200</text>
<line x1="422.1" y1="78" x2="425.9" y2="78" stroke="#000" stroke-width="1.4"/>
<text x="421.1" y="81.56" font-size="9.5" font-weight="bold" text-anchor="end" stroke="#000" stroke-width="0.45" textLength="15.75" lengthAdjust="spacingAndGlyphs" fill="#000">400</text>
<line x1="422.1" y1="42.6" x2="425.9" y2="42.6" stroke="#000" stroke-width="1.4"/>
<text x="421.1" y="46.16" font-size="9.5" font-weight="bold" text-anchor="end" stroke="#000" stroke-width="0.45" textLength="15.75" lengthAdjust="spacingAndGlyphs" fill="#000">600</text>
<line x1="425.9" y1="148.8" x2="425.9" y2="152.6" stroke="#000" stroke-width="1.4"/>
<text x="425.9" y="162.6" font-size="9.8" font-weight="bold" text-anchor="middle" stroke="#000" stroke-width="0.45" textLength="5.25" lengthAdjust="spacingAndGlyphs" fill="#000">0</text>
<line x1="453.39" y1="148.8" x2="453.39" y2="152.6" stroke="#000" stroke-width="1.4"/>
<text x="453.39" y="162.6" font-size="9.8" font-weight="bold" text-anchor="middle" stroke="#000" stroke-width="0.45" textLength="10.5" lengthAdjust="spacingAndGlyphs" fill="#000">24</text>
<line x1="480.88" y1="148.8" x2="480.88" y2="152.6" stroke="#000" stroke-width="1.4"/>
<text x="480.88" y="162.6" font-size="9.8" font-weight="bold" text-anchor="middle" stroke="#000" stroke-width="0.45" textLength="10.5" lengthAdjust="spacingAndGlyphs" fill="#000">48</text>
<line x1="508.38" y1="148.8" x2="508.38" y2="152.6" stroke="#000" stroke-width="1.4"/>
<text x="508.38" y="162.6" font-size="9.8" font-weight="bold" text-anchor="middle" stroke="#000" stroke-width="0.45" textLength="10.5" lengthAdjust="spacingAndGlyphs" fill="#000">72</text>
<text x="385" y="87" font-size="10.3" font-weight="bold" text-anchor="middle" stroke="#000" stroke-width="0.45" textLength="88.4" lengthAdjust="spacingAndGlyphs" transform="rotate(-90 385 87)" fill="#000">MDA-MB-231 MTT</text>
<text x="397.8" y="86.35" font-size="10.3" font-weight="normal" text-anchor="middle" stroke="#000" stroke-width="0.4" textLength="54.2" lengthAdjust="spacingAndGlyphs" transform="rotate(-90 397.8 86.35)" fill="#000">(% of day 0)</text>
<text x="467.6" y="177.5" font-size="9.6" text-anchor="middle" textLength="39" lengthAdjust="spacingAndGlyphs"><tspan font-weight="bold" stroke="#000" stroke-width="0.45">Time</tspan><tspan font-weight="normal" stroke="#000" stroke-width="0.45"> (h)</tspan></text>
<polyline points="425.9,131.1 453.39,93.05 480.88,71.98 508.38,41.72" fill="none" stroke="#333" stroke-width="0.6" stroke-linejoin="round"/>
<polyline points="425.9,131.1 453.39,97.65 480.88,88.27 508.38,67.38" fill="none" stroke="#000" stroke-width="0.9" stroke-linejoin="round"/>
<polyline points="425.9,131.1 453.39,109.51 480.88,106.67 508.38,89.33" fill="none" stroke="#000" stroke-width="0.9" stroke-linejoin="round"/>
<line x1="453.39" y1="108.09" x2="453.39" y2="110.92" stroke="#444" stroke-width="0.8"/>
<line x1="451.09" y1="108.09" x2="455.69" y2="108.09" stroke="#444" stroke-width="0.8"/>
<line x1="451.09" y1="110.92" x2="455.69" y2="110.92" stroke="#444" stroke-width="0.8"/>
<line x1="480.88" y1="104.9" x2="480.88" y2="108.44" stroke="#444" stroke-width="0.8"/>
<line x1="478.58" y1="104.9" x2="483.18" y2="104.9" stroke="#444" stroke-width="0.8"/>
<line x1="478.58" y1="108.44" x2="483.18" y2="108.44" stroke="#444" stroke-width="0.8"/>
<line x1="508.38" y1="85.79" x2="508.38" y2="92.87" stroke="#444" stroke-width="0.8"/>
<line x1="506.08" y1="85.79" x2="510.68" y2="85.79" stroke="#444" stroke-width="0.8"/>
<line x1="506.08" y1="92.87" x2="510.68" y2="92.87" stroke="#444" stroke-width="0.8"/>
<circle cx="425.9" cy="131.1" r="2.5" fill="#ffffff" stroke="#000" stroke-width="1"/>
<circle cx="453.39" cy="109.51" r="2.5" fill="#ffffff" stroke="#000" stroke-width="1"/>
<circle cx="480.88" cy="106.67" r="2.5" fill="#ffffff" stroke="#000" stroke-width="1"/>
<circle cx="508.38" cy="89.33" r="2.5" fill="#ffffff" stroke="#000" stroke-width="1"/>
<line x1="453.39" y1="94.99" x2="453.39" y2="100.3" stroke="#444" stroke-width="0.8"/>
<line x1="451.09" y1="94.99" x2="455.69" y2="94.99" stroke="#444" stroke-width="0.8"/>
<line x1="451.09" y1="100.3" x2="455.69" y2="100.3" stroke="#444" stroke-width="0.8"/>
<line x1="480.88" y1="84.37" x2="480.88" y2="92.16" stroke="#444" stroke-width="0.8"/>
<line x1="478.58" y1="84.37" x2="483.18" y2="84.37" stroke="#444" stroke-width="0.8"/>
<line x1="478.58" y1="92.16" x2="483.18" y2="92.16" stroke="#444" stroke-width="0.8"/>
<line x1="508.38" y1="64.19" x2="508.38" y2="70.57" stroke="#444" stroke-width="0.8"/>
<line x1="506.08" y1="64.19" x2="510.68" y2="64.19" stroke="#444" stroke-width="0.8"/>
<line x1="506.08" y1="70.57" x2="510.68" y2="70.57" stroke="#444" stroke-width="0.8"/>
<circle cx="425.9" cy="131.1" r="2.5" fill="#c8c8c8" stroke="#000" stroke-width="1"/>
<circle cx="453.39" cy="97.65" r="2.5" fill="#c8c8c8" stroke="#000" stroke-width="1"/>
<circle cx="480.88" cy="88.27" r="2.5" fill="#c8c8c8" stroke="#000" stroke-width="1"/>
<circle cx="508.38" cy="67.38" r="2.5" fill="#c8c8c8" stroke="#000" stroke-width="1"/>
<line x1="453.39" y1="89.86" x2="453.39" y2="96.23" stroke="#888" stroke-width="0.8"/>
<line x1="451.09" y1="89.86" x2="455.69" y2="89.86" stroke="#888" stroke-width="0.8"/>
<line x1="451.09" y1="96.23" x2="455.69" y2="96.23" stroke="#888" stroke-width="0.8"/>
<line x1="480.88" y1="68.09" x2="480.88" y2="75.88" stroke="#888" stroke-width="0.8"/>
<line x1="478.58" y1="68.09" x2="483.18" y2="68.09" stroke="#888" stroke-width="0.8"/>
<line x1="478.58" y1="75.88" x2="483.18" y2="75.88" stroke="#888" stroke-width="0.8"/>
<line x1="508.38" y1="38.18" x2="508.38" y2="45.26" stroke="#888" stroke-width="0.8"/>
<line x1="506.08" y1="38.18" x2="510.68" y2="38.18" stroke="#888" stroke-width="0.8"/>
<line x1="506.08" y1="45.26" x2="510.68" y2="45.26" stroke="#888" stroke-width="0.8"/>
<circle cx="425.9" cy="131.1" r="2.5" fill="#5f5f5f" stroke="#000" stroke-width="1"/>
<circle cx="453.39" cy="93.05" r="2.5" fill="#5f5f5f" stroke="#000" stroke-width="1"/>
<circle cx="480.88" cy="71.98" r="2.5" fill="#5f5f5f" stroke="#000" stroke-width="1"/>
<circle cx="508.38" cy="41.72" r="2.5" fill="#5f5f5f" stroke="#000" stroke-width="1"/>
<ellipse cx="453.39" cy="85" rx="1.3" ry="1.05" fill="#222"/>
<ellipse cx="453.39" cy="103.5" rx="1.3" ry="1.05" fill="#222"/>
<path d="M480.7 54.83L480.1 58.58M481.72 54.83L481.12 58.58M479.86 56.06L482.14 56.06M479.62 57.41L481.9 57.41" stroke="#000" stroke-width="0.96" fill="none"/>
<ellipse cx="480.88" cy="64.1" rx="1.3" ry="1.05" fill="#222"/>
<ellipse cx="480.88" cy="80.1" rx="1.3" ry="1.05" fill="#222"/>
<path d="M508.2 22.73L507.6 26.48M509.22 22.73L508.62 26.48M507.36 23.96L509.64 23.96M507.12 25.31L509.4 25.31" stroke="#000" stroke-width="0.96" fill="none"/>
<ellipse cx="508.38" cy="32.6" rx="1.3" ry="1.05" fill="#222"/>
<ellipse cx="508.38" cy="60.2" rx="1.3" ry="1.05" fill="#222"/>
<line x1="449.6" y1="125.4" x2="462.6" y2="125.4" stroke="#999" stroke-width="0.9"/>
<circle cx="456.1" cy="125.4" r="2.4" fill="#5f5f5f" stroke="#000" stroke-width="0.9"/>
<text x="470.3" y="128.79" font-size="8.2" font-weight="bold" text-anchor="start" stroke="#000" stroke-width="0.1" textLength="40.6" lengthAdjust="spacingAndGlyphs" fill="#000">Obese CM</text>
<line x1="449.6" y1="134.6" x2="462.6" y2="134.6" stroke="#000" stroke-width="0.9"/>
<circle cx="456.1" cy="134.6" r="2.4" fill="#c8c8c8" stroke="#000" stroke-width="0.9"/>
<text x="470.3" y="137.99" font-size="8.2" font-weight="bold" text-anchor="start" stroke="#000" stroke-width="0.1" textLength="33.8" lengthAdjust="spacingAndGlyphs" fill="#000">Lean CM</text>
<line x1="449.6" y1="143.4" x2="462.6" y2="143.4" stroke="#000" stroke-width="0.9"/>
<circle cx="456.1" cy="143.4" r="2.4" fill="#ffffff" stroke="#000" stroke-width="0.9"/>
<text x="470.3" y="146.79" font-size="8.2" font-weight="bold" text-anchor="start" stroke="#000" stroke-width="0.1" textLength="46.6" lengthAdjust="spacingAndGlyphs" fill="#000">Basal Media</text>
<text x="18.85" y="207" font-size="21.8" font-weight="bold" text-anchor="start" stroke="#000" stroke-width="0.55" textLength="14.58" lengthAdjust="spacingAndGlyphs" fill="#000">D</text>
<line x1="42.3" y1="213.5" x2="42.3" y2="338.85" stroke="#000" stroke-width="1.9"/>
<line x1="41.35" y1="337.9" x2="125.5" y2="337.9" stroke="#000" stroke-width="1.9"/>
<line x1="38.5" y1="337.9" x2="42.3" y2="337.9" stroke="#000" stroke-width="1.4"/>
<text x="37.5" y="341.46" font-size="9.5" font-weight="bold" text-anchor="end" stroke="#000" stroke-width="0.45" textLength="5.25" lengthAdjust="spacingAndGlyphs" fill="#000">0</text>
<line x1="38.5" y1="303.47" x2="42.3" y2="303.47" stroke="#000" stroke-width="1.4"/>
<text x="37.5" y="307.04" font-size="9.5" font-weight="bold" text-anchor="end" stroke="#000" stroke-width="0.45" textLength="10.5" lengthAdjust="spacingAndGlyphs" fill="#000">25</text>
<line x1="38.5" y1="269.05" x2="42.3" y2="269.05" stroke="#000" stroke-width="1.4"/>
<text x="37.5" y="272.61" font-size="9.5" font-weight="bold" text-anchor="end" stroke="#000" stroke-width="0.45" textLength="10.5" lengthAdjust="spacingAndGlyphs" fill="#000">50</text>
<line x1="38.5" y1="234.62" x2="42.3" y2="234.62" stroke="#000" stroke-width="1.4"/>
<text x="37.5" y="238.19" font-size="9.5" font-weight="bold" text-anchor="end" stroke="#000" stroke-width="0.45" textLength="10.5" lengthAdjust="spacingAndGlyphs" fill="#000">75</text>
<line x1="42.3" y1="337.9" x2="42.3" y2="341.7" stroke="#000" stroke-width="1.4"/>
<text x="42.3" y="351.7" font-size="9.8" font-weight="bold" text-anchor="middle" stroke="#000" stroke-width="0.45" textLength="5.25" lengthAdjust="spacingAndGlyphs" fill="#000">0</text>
<line x1="65.2" y1="337.9" x2="65.2" y2="341.7" stroke="#000" stroke-width="1.4"/>
<text x="65.2" y="351.7" font-size="9.8" font-weight="bold" text-anchor="middle" stroke="#000" stroke-width="0.45" textLength="10.5" lengthAdjust="spacingAndGlyphs" fill="#000">10</text>
<line x1="88.1" y1="337.9" x2="88.1" y2="341.7" stroke="#000" stroke-width="1.4"/>
<text x="88.1" y="351.7" font-size="9.8" font-weight="bold" text-anchor="middle" stroke="#000" stroke-width="0.45" textLength="10.5" lengthAdjust="spacingAndGlyphs" fill="#000">20</text>
<line x1="111" y1="337.9" x2="111" y2="341.7" stroke="#000" stroke-width="1.4"/>
<text x="111" y="351.7" font-size="9.8" font-weight="bold" text-anchor="middle" stroke="#000" stroke-width="0.45" textLength="10.5" lengthAdjust="spacingAndGlyphs" fill="#000">30</text>
<text x="6.4" y="276.5" font-size="10" font-weight="bold" text-anchor="middle" stroke="#000" stroke-width="0.45" textLength="62.5" lengthAdjust="spacingAndGlyphs" transform="rotate(-90 6.4 276.5)" fill="#000">MDA-MB-231</text>
<text x="19.6" y="274.7" font-size="10" font-weight="bold" text-anchor="middle" stroke="#000" stroke-width="0.45" textLength="109.7" lengthAdjust="spacingAndGlyphs" transform="rotate(-90 19.6 274.7)" fill="#000">relative wound density</text>
<text x="83.8" y="369.5" font-size="9.6" text-anchor="middle" textLength="38.8" lengthAdjust="spacingAndGlyphs"><tspan font-weight="bold" stroke="#000" stroke-width="0.45">Time</tspan><tspan font-weight="normal" stroke="#000" stroke-width="0.45"> (h)</tspan></text>
<polyline points="42.3,337.9 46.88,318.48 56.04,289.98 60.62,279.79 65.2,272.91 69.78,267.12 74.36,260.65 78.94,254.18 83.52,248.53 88.1,242.75 92.68,237.93 97.26,233.66 101.84,230.63 106.42,228.15 111,224.02 115.58,222.23 120.16,220.17 124.74,218.1" fill="none" stroke="#000" stroke-width="0.8" stroke-linejoin="round"/>
<polyline points="42.3,337.9 46.88,327.43 56.04,305.4 60.62,297.28 65.2,289.15 69.78,282.13 74.36,276.62 78.94,271.12 83.52,265.75 88.1,260.37 92.68,255.97 97.26,251.15 101.84,247.84 106.42,244.26 111,240.68 115.58,237.65 120.16,235.59 124.74,233.25" fill="none" stroke="#000" stroke-width="0.8" stroke-linejoin="round"/>
<polyline points="42.3,337.9 46.88,330.74 56.04,319.17 60.62,316.42 65.2,312.01 69.78,310.77 74.36,306.09 78.94,303.47 83.52,300.72 88.1,297.28 92.68,293.84 97.26,290.39 101.84,286.95 106.42,283.51 111,280.07 115.58,275.93 120.16,271.12 124.74,266.3" fill="none" stroke="#000" stroke-width="0.8" stroke-linejoin="round"/>
<line x1="46.88" y1="328.67" x2="46.88" y2="332.81" stroke="#000" stroke-width="0.8"/>
<line x1="44.38" y1="328.67" x2="49.38" y2="328.67" stroke="#000" stroke-width="0.8"/>
<line x1="44.38" y1="332.81" x2="49.38" y2="332.81" stroke="#000" stroke-width="0.8"/>
<line x1="56.04" y1="316.42" x2="56.04" y2="321.93" stroke="#000" stroke-width="0.8"/>
<line x1="53.54" y1="316.42" x2="58.54" y2="316.42" stroke="#000" stroke-width="0.8"/>
<line x1="53.54" y1="321.93" x2="58.54" y2="321.93" stroke="#000" stroke-width="0.8"/>
<line x1="60.62" y1="313.66" x2="60.62" y2="319.17" stroke="#000" stroke-width="0.8"/>
<line x1="58.12" y1="313.66" x2="63.12" y2="313.66" stroke="#000" stroke-width="0.8"/>
<line x1="58.12" y1="319.17" x2="63.12" y2="319.17" stroke="#000" stroke-width="0.8"/>
<line x1="65.2" y1="309.26" x2="65.2" y2="314.77" stroke="#000" stroke-width="0.8"/>
<line x1="62.7" y1="309.26" x2="67.7" y2="309.26" stroke="#000" stroke-width="0.8"/>
<line x1="62.7" y1="314.77" x2="67.7" y2="314.77" stroke="#000" stroke-width="0.8"/>
<line x1="69.78" y1="308.02" x2="69.78" y2="313.53" stroke="#000" stroke-width="0.8"/>
<line x1="67.28" y1="308.02" x2="72.28" y2="308.02" stroke="#000" stroke-width="0.8"/>
<line x1="67.28" y1="313.53" x2="72.28" y2="313.53" stroke="#000" stroke-width="0.8"/>
<line x1="74.36" y1="303.34" x2="74.36" y2="308.85" stroke="#000" stroke-width="0.8"/>
<line x1="71.86" y1="303.34" x2="76.86" y2="303.34" stroke="#000" stroke-width="0.8"/>
<line x1="71.86" y1="308.85" x2="76.86" y2="308.85" stroke="#000" stroke-width="0.8"/>
<line x1="78.94" y1="300.72" x2="78.94" y2="306.23" stroke="#000" stroke-width="0.8"/>
<line x1="76.44" y1="300.72" x2="81.44" y2="300.72" stroke="#000" stroke-width="0.8"/>
<line x1="76.44" y1="306.23" x2="81.44" y2="306.23" stroke="#000" stroke-width="0.8"/>
<line x1="83.52" y1="297.97" x2="83.52" y2="303.47" stroke="#000" stroke-width="0.8"/>
<line x1="81.02" y1="297.97" x2="86.02" y2="297.97" stroke="#000" stroke-width="0.8"/>
<line x1="81.02" y1="303.47" x2="86.02" y2="303.47" stroke="#000" stroke-width="0.8"/>
<line x1="88.1" y1="294.52" x2="88.1" y2="300.03" stroke="#000" stroke-width="0.8"/>
<line x1="85.6" y1="294.52" x2="90.6" y2="294.52" stroke="#000" stroke-width="0.8"/>
<line x1="85.6" y1="300.03" x2="90.6" y2="300.03" stroke="#000" stroke-width="0.8"/>
<line x1="92.68" y1="291.08" x2="92.68" y2="296.59" stroke="#000" stroke-width="0.8"/>
<line x1="90.18" y1="291.08" x2="95.18" y2="291.08" stroke="#000" stroke-width="0.8"/>
<line x1="90.18" y1="296.59" x2="95.18" y2="296.59" stroke="#000" stroke-width="0.8"/>
<line x1="97.26" y1="286.95" x2="97.26" y2="293.84" stroke="#000" stroke-width="0.8"/>
<line x1="94.76" y1="286.95" x2="99.76" y2="286.95" stroke="#000" stroke-width="0.8"/>
<line x1="94.76" y1="293.84" x2="99.76" y2="293.84" stroke="#000" stroke-width="0.8"/>
<line x1="101.84" y1="283.51" x2="101.84" y2="290.39" stroke="#000" stroke-width="0.8"/>
<line x1="99.34" y1="283.51" x2="104.34" y2="283.51" stroke="#000" stroke-width="0.8"/>
<line x1="99.34" y1="290.39" x2="104.34" y2="290.39" stroke="#000" stroke-width="0.8"/>
<line x1="106.42" y1="280.07" x2="106.42" y2="286.95" stroke="#000" stroke-width="0.8"/>
<line x1="103.92" y1="280.07" x2="108.92" y2="280.07" stroke="#000" stroke-width="0.8"/>
<line x1="103.92" y1="286.95" x2="108.92" y2="286.95" stroke="#000" stroke-width="0.8"/>
<line x1="111" y1="276.62" x2="111" y2="283.51" stroke="#000" stroke-width="0.8"/>
<line x1="108.5" y1="276.62" x2="113.5" y2="276.62" stroke="#000" stroke-width="0.8"/>
<line x1="108.5" y1="283.51" x2="113.5" y2="283.51" stroke="#000" stroke-width="0.8"/>
<line x1="115.58" y1="272.49" x2="115.58" y2="279.38" stroke="#000" stroke-width="0.8"/>
<line x1="113.08" y1="272.49" x2="118.08" y2="272.49" stroke="#000" stroke-width="0.8"/>
<line x1="113.08" y1="279.38" x2="118.08" y2="279.38" stroke="#000" stroke-width="0.8"/>
<line x1="120.16" y1="267.67" x2="120.16" y2="274.56" stroke="#000" stroke-width="0.8"/>
<line x1="117.66" y1="267.67" x2="122.66" y2="267.67" stroke="#000" stroke-width="0.8"/>
<line x1="117.66" y1="274.56" x2="122.66" y2="274.56" stroke="#000" stroke-width="0.8"/>
<line x1="124.74" y1="262.16" x2="124.74" y2="270.43" stroke="#000" stroke-width="0.8"/>
<line x1="122.24" y1="262.16" x2="127.24" y2="262.16" stroke="#000" stroke-width="0.8"/>
<line x1="122.24" y1="270.43" x2="127.24" y2="270.43" stroke="#000" stroke-width="0.8"/>
<circle cx="42.3" cy="337.9" r="2.4" fill="#ffffff" stroke="#000" stroke-width="0.9"/>
<circle cx="46.88" cy="330.74" r="2.4" fill="#ffffff" stroke="#000" stroke-width="0.9"/>
<circle cx="56.04" cy="319.17" r="2.4" fill="#ffffff" stroke="#000" stroke-width="0.9"/>
<circle cx="60.62" cy="316.42" r="2.4" fill="#ffffff" stroke="#000" stroke-width="0.9"/>
<circle cx="65.2" cy="312.01" r="2.4" fill="#ffffff" stroke="#000" stroke-width="0.9"/>
<circle cx="69.78" cy="310.77" r="2.4" fill="#ffffff" stroke="#000" stroke-width="0.9"/>
<circle cx="74.36" cy="306.09" r="2.4" fill="#ffffff" stroke="#000" stroke-width="0.9"/>
<circle cx="78.94" cy="303.47" r="2.4" fill="#ffffff" stroke="#000" stroke-width="0.9"/>
<circle cx="83.52" cy="300.72" r="2.4" fill="#ffffff" stroke="#000" stroke-width="0.9"/>
<circle cx="88.1" cy="297.28" r="2.4" fill="#ffffff" stroke="#000" stroke-width="0.9"/>
<circle cx="92.68" cy="293.84" r="2.4" fill="#ffffff" stroke="#000" stroke-width="0.9"/>
<circle cx="97.26" cy="290.39" r="2.4" fill="#ffffff" stroke="#000" stroke-width="0.9"/>
<circle cx="101.84" cy="286.95" r="2.4" fill="#ffffff" stroke="#000" stroke-width="0.9"/>
<circle cx="106.42" cy="283.51" r="2.4" fill="#ffffff" stroke="#000" stroke-width="0.9"/>
<circle cx="111" cy="280.07" r="2.4" fill="#ffffff" stroke="#000" stroke-width="0.9"/>
<circle cx="115.58" cy="275.93" r="2.4" fill="#ffffff" stroke="#000" stroke-width="0.9"/>
<circle cx="120.16" cy="271.12" r="2.4" fill="#ffffff" stroke="#000" stroke-width="0.9"/>
<circle cx="124.74" cy="266.3" r="2.4" fill="#ffffff" stroke="#000" stroke-width="0.9"/>
<line x1="46.88" y1="324.68" x2="46.88" y2="330.19" stroke="#000" stroke-width="0.8"/>
<line x1="44.28" y1="324.68" x2="49.48" y2="324.68" stroke="#000" stroke-width="0.8"/>
<line x1="44.28" y1="330.19" x2="49.48" y2="330.19" stroke="#000" stroke-width="0.8"/>
<line x1="56.04" y1="299.89" x2="56.04" y2="310.91" stroke="#000" stroke-width="0.8"/>
<line x1="53.44" y1="299.89" x2="58.64" y2="299.89" stroke="#000" stroke-width="0.8"/>
<line x1="53.44" y1="310.91" x2="58.64" y2="310.91" stroke="#000" stroke-width="0.8"/>
<line x1="60.62" y1="291.08" x2="60.62" y2="303.47" stroke="#000" stroke-width="0.8"/>
<line x1="58.02" y1="291.08" x2="63.22" y2="291.08" stroke="#000" stroke-width="0.8"/>
<line x1="58.02" y1="303.47" x2="63.22" y2="303.47" stroke="#000" stroke-width="0.8"/>
<line x1="65.2" y1="282.96" x2="65.2" y2="295.35" stroke="#000" stroke-width="0.8"/>
<line x1="62.6" y1="282.96" x2="67.8" y2="282.96" stroke="#000" stroke-width="0.8"/>
<line x1="62.6" y1="295.35" x2="67.8" y2="295.35" stroke="#000" stroke-width="0.8"/>
<line x1="69.78" y1="275.93" x2="69.78" y2="288.33" stroke="#000" stroke-width="0.8"/>
<line x1="67.18" y1="275.93" x2="72.38" y2="275.93" stroke="#000" stroke-width="0.8"/>
<line x1="67.18" y1="288.33" x2="72.38" y2="288.33" stroke="#000" stroke-width="0.8"/>
<line x1="74.36" y1="270.43" x2="74.36" y2="282.82" stroke="#000" stroke-width="0.8"/>
<line x1="71.76" y1="270.43" x2="76.96" y2="270.43" stroke="#000" stroke-width="0.8"/>
<line x1="71.76" y1="282.82" x2="76.96" y2="282.82" stroke="#000" stroke-width="0.8"/>
<line x1="78.94" y1="264.92" x2="78.94" y2="277.31" stroke="#000" stroke-width="0.8"/>
<line x1="76.34" y1="264.92" x2="81.54" y2="264.92" stroke="#000" stroke-width="0.8"/>
<line x1="76.34" y1="277.31" x2="81.54" y2="277.31" stroke="#000" stroke-width="0.8"/>
<line x1="83.52" y1="259.55" x2="83.52" y2="271.94" stroke="#000" stroke-width="0.8"/>
<line x1="80.92" y1="259.55" x2="86.12" y2="259.55" stroke="#000" stroke-width="0.8"/>
<line x1="80.92" y1="271.94" x2="86.12" y2="271.94" stroke="#000" stroke-width="0.8"/>
<line x1="88.1" y1="254.18" x2="88.1" y2="266.57" stroke="#000" stroke-width="0.8"/>
<line x1="85.5" y1="254.18" x2="90.7" y2="254.18" stroke="#000" stroke-width="0.8"/>
<line x1="85.5" y1="266.57" x2="90.7" y2="266.57" stroke="#000" stroke-width="0.8"/>
<line x1="92.68" y1="249.77" x2="92.68" y2="262.16" stroke="#000" stroke-width="0.8"/>
<line x1="90.08" y1="249.77" x2="95.28" y2="249.77" stroke="#000" stroke-width="0.8"/>
<line x1="90.08" y1="262.16" x2="95.28" y2="262.16" stroke="#000" stroke-width="0.8"/>
<line x1="97.26" y1="244.95" x2="97.26" y2="257.35" stroke="#000" stroke-width="0.8"/>
<line x1="94.66" y1="244.95" x2="99.86" y2="244.95" stroke="#000" stroke-width="0.8"/>
<line x1="94.66" y1="257.35" x2="99.86" y2="257.35" stroke="#000" stroke-width="0.8"/>
<line x1="101.84" y1="241.65" x2="101.84" y2="254.04" stroke="#000" stroke-width="0.8"/>
<line x1="99.24" y1="241.65" x2="104.44" y2="241.65" stroke="#000" stroke-width="0.8"/>
<line x1="99.24" y1="254.04" x2="104.44" y2="254.04" stroke="#000" stroke-width="0.8"/>
<line x1="106.42" y1="238.07" x2="106.42" y2="250.46" stroke="#000" stroke-width="0.8"/>
<line x1="103.82" y1="238.07" x2="109.02" y2="238.07" stroke="#000" stroke-width="0.8"/>
<line x1="103.82" y1="250.46" x2="109.02" y2="250.46" stroke="#000" stroke-width="0.8"/>
<line x1="111" y1="234.49" x2="111" y2="246.88" stroke="#000" stroke-width="0.8"/>
<line x1="108.4" y1="234.49" x2="113.6" y2="234.49" stroke="#000" stroke-width="0.8"/>
<line x1="108.4" y1="246.88" x2="113.6" y2="246.88" stroke="#000" stroke-width="0.8"/>
<line x1="115.58" y1="231.46" x2="115.58" y2="243.85" stroke="#000" stroke-width="0.8"/>
<line x1="112.98" y1="231.46" x2="118.18" y2="231.46" stroke="#000" stroke-width="0.8"/>
<line x1="112.98" y1="243.85" x2="118.18" y2="243.85" stroke="#000" stroke-width="0.8"/>
<line x1="120.16" y1="229.39" x2="120.16" y2="241.79" stroke="#000" stroke-width="0.8"/>
<line x1="117.56" y1="229.39" x2="122.76" y2="229.39" stroke="#000" stroke-width="0.8"/>
<line x1="117.56" y1="241.79" x2="122.76" y2="241.79" stroke="#000" stroke-width="0.8"/>
<line x1="124.74" y1="227.05" x2="124.74" y2="239.44" stroke="#000" stroke-width="0.8"/>
<line x1="122.14" y1="227.05" x2="127.34" y2="227.05" stroke="#000" stroke-width="0.8"/>
<line x1="122.14" y1="239.44" x2="127.34" y2="239.44" stroke="#000" stroke-width="0.8"/>
<circle cx="42.3" cy="337.9" r="2.4" fill="#c8c8c8" stroke="#000" stroke-width="0.9"/>
<circle cx="46.88" cy="327.43" r="2.4" fill="#c8c8c8" stroke="#000" stroke-width="0.9"/>
<circle cx="56.04" cy="305.4" r="2.4" fill="#c8c8c8" stroke="#000" stroke-width="0.9"/>
<circle cx="60.62" cy="297.28" r="2.4" fill="#c8c8c8" stroke="#000" stroke-width="0.9"/>
<circle cx="65.2" cy="289.15" r="2.4" fill="#c8c8c8" stroke="#000" stroke-width="0.9"/>
<circle cx="69.78" cy="282.13" r="2.4" fill="#c8c8c8" stroke="#000" stroke-width="0.9"/>
<circle cx="74.36" cy="276.62" r="2.4" fill="#c8c8c8" stroke="#000" stroke-width="0.9"/>
<circle cx="78.94" cy="271.12" r="2.4" fill="#c8c8c8" stroke="#000" stroke-width="0.9"/>
<circle cx="83.52" cy="265.75" r="2.4" fill="#c8c8c8" stroke="#000" stroke-width="0.9"/>
<circle cx="88.1" cy="260.37" r="2.4" fill="#c8c8c8" stroke="#000" stroke-width="0.9"/>
<circle cx="92.68" cy="255.97" r="2.4" fill="#c8c8c8" stroke="#000" stroke-width="0.9"/>
<circle cx="97.26" cy="251.15" r="2.4" fill="#c8c8c8" stroke="#000" stroke-width="0.9"/>
<circle cx="101.84" cy="247.84" r="2.4" fill="#c8c8c8" stroke="#000" stroke-width="0.9"/>
<circle cx="106.42" cy="244.26" r="2.4" fill="#c8c8c8" stroke="#000" stroke-width="0.9"/>
<circle cx="111" cy="240.68" r="2.4" fill="#c8c8c8" stroke="#000" stroke-width="0.9"/>
<circle cx="115.58" cy="237.65" r="2.4" fill="#c8c8c8" stroke="#000" stroke-width="0.9"/>
<circle cx="120.16" cy="235.59" r="2.4" fill="#c8c8c8" stroke="#000" stroke-width="0.9"/>
<circle cx="124.74" cy="233.25" r="2.4" fill="#c8c8c8" stroke="#000" stroke-width="0.9"/>
<line x1="46.88" y1="315.73" x2="46.88" y2="321.24" stroke="#000" stroke-width="0.8"/>
<line x1="44.38" y1="315.73" x2="49.38" y2="315.73" stroke="#000" stroke-width="0.8"/>
<line x1="44.38" y1="321.24" x2="49.38" y2="321.24" stroke="#000" stroke-width="0.8"/>
<line x1="56.04" y1="285.16" x2="56.04" y2="294.8" stroke="#000" stroke-width="0.8"/>
<line x1="53.54" y1="285.16" x2="58.54" y2="285.16" stroke="#000" stroke-width="0.8"/>
<line x1="53.54" y1="294.8" x2="58.54" y2="294.8" stroke="#000" stroke-width="0.8"/>
<line x1="60.62" y1="274.97" x2="60.62" y2="284.61" stroke="#000" stroke-width="0.8"/>
<line x1="58.12" y1="274.97" x2="63.12" y2="274.97" stroke="#000" stroke-width="0.8"/>
<line x1="58.12" y1="284.61" x2="63.12" y2="284.61" stroke="#000" stroke-width="0.8"/>
<line x1="65.2" y1="268.09" x2="65.2" y2="277.73" stroke="#000" stroke-width="0.8"/>
<line x1="62.7" y1="268.09" x2="67.7" y2="268.09" stroke="#000" stroke-width="0.8"/>
<line x1="62.7" y1="277.73" x2="67.7" y2="277.73" stroke="#000" stroke-width="0.8"/>
<line x1="69.78" y1="262.3" x2="69.78" y2="271.94" stroke="#000" stroke-width="0.8"/>
<line x1="67.28" y1="262.3" x2="72.28" y2="262.3" stroke="#000" stroke-width="0.8"/>
<line x1="67.28" y1="271.94" x2="72.28" y2="271.94" stroke="#000" stroke-width="0.8"/>
<line x1="74.36" y1="255.83" x2="74.36" y2="265.47" stroke="#000" stroke-width="0.8"/>
<line x1="71.86" y1="255.83" x2="76.86" y2="255.83" stroke="#000" stroke-width="0.8"/>
<line x1="71.86" y1="265.47" x2="76.86" y2="265.47" stroke="#000" stroke-width="0.8"/>
<line x1="78.94" y1="249.36" x2="78.94" y2="259" stroke="#000" stroke-width="0.8"/>
<line x1="76.44" y1="249.36" x2="81.44" y2="249.36" stroke="#000" stroke-width="0.8"/>
<line x1="76.44" y1="259" x2="81.44" y2="259" stroke="#000" stroke-width="0.8"/>
<line x1="83.52" y1="243.71" x2="83.52" y2="253.35" stroke="#000" stroke-width="0.8"/>
<line x1="81.02" y1="243.71" x2="86.02" y2="243.71" stroke="#000" stroke-width="0.8"/>
<line x1="81.02" y1="253.35" x2="86.02" y2="253.35" stroke="#000" stroke-width="0.8"/>
<line x1="88.1" y1="237.93" x2="88.1" y2="247.57" stroke="#000" stroke-width="0.8"/>
<line x1="85.6" y1="237.93" x2="90.6" y2="237.93" stroke="#000" stroke-width="0.8"/>
<line x1="85.6" y1="247.57" x2="90.6" y2="247.57" stroke="#000" stroke-width="0.8"/>
<line x1="92.68" y1="233.11" x2="92.68" y2="242.75" stroke="#000" stroke-width="0.8"/>
<line x1="90.18" y1="233.11" x2="95.18" y2="233.11" stroke="#000" stroke-width="0.8"/>
<line x1="90.18" y1="242.75" x2="95.18" y2="242.75" stroke="#000" stroke-width="0.8"/>
<line x1="97.26" y1="228.84" x2="97.26" y2="238.48" stroke="#000" stroke-width="0.8"/>
<line x1="94.76" y1="228.84" x2="99.76" y2="228.84" stroke="#000" stroke-width="0.8"/>
<line x1="94.76" y1="238.48" x2="99.76" y2="238.48" stroke="#000" stroke-width="0.8"/>
<line x1="101.84" y1="225.81" x2="101.84" y2="235.45" stroke="#000" stroke-width="0.8"/>
<line x1="99.34" y1="225.81" x2="104.34" y2="225.81" stroke="#000" stroke-width="0.8"/>
<line x1="99.34" y1="235.45" x2="104.34" y2="235.45" stroke="#000" stroke-width="0.8"/>
<line x1="106.42" y1="224.02" x2="106.42" y2="232.28" stroke="#000" stroke-width="0.8"/>
<line x1="103.92" y1="224.02" x2="108.92" y2="224.02" stroke="#000" stroke-width="0.8"/>
<line x1="103.92" y1="232.28" x2="108.92" y2="232.28" stroke="#000" stroke-width="0.8"/>
<line x1="111" y1="219.89" x2="111" y2="228.15" stroke="#000" stroke-width="0.8"/>
<line x1="108.5" y1="219.89" x2="113.5" y2="219.89" stroke="#000" stroke-width="0.8"/>
<line x1="108.5" y1="228.15" x2="113.5" y2="228.15" stroke="#000" stroke-width="0.8"/>
<line x1="115.58" y1="218.1" x2="115.58" y2="226.36" stroke="#000" stroke-width="0.8"/>
<line x1="113.08" y1="218.1" x2="118.08" y2="218.1" stroke="#000" stroke-width="0.8"/>
<line x1="113.08" y1="226.36" x2="118.08" y2="226.36" stroke="#000" stroke-width="0.8"/>
<line x1="120.16" y1="216.04" x2="120.16" y2="224.3" stroke="#000" stroke-width="0.8"/>
<line x1="117.66" y1="216.04" x2="122.66" y2="216.04" stroke="#000" stroke-width="0.8"/>
<line x1="117.66" y1="224.3" x2="122.66" y2="224.3" stroke="#000" stroke-width="0.8"/>
<line x1="124.74" y1="213.97" x2="124.74" y2="222.23" stroke="#000" stroke-width="0.8"/>
<line x1="122.24" y1="213.97" x2="127.24" y2="213.97" stroke="#000" stroke-width="0.8"/>
<line x1="122.24" y1="222.23" x2="127.24" y2="222.23" stroke="#000" stroke-width="0.8"/>
<circle cx="42.3" cy="337.9" r="2.4" fill="#5f5f5f" stroke="#000" stroke-width="0.9"/>
<circle cx="46.88" cy="318.48" r="2.4" fill="#5f5f5f" stroke="#000" stroke-width="0.9"/>
<circle cx="56.04" cy="289.98" r="2.4" fill="#5f5f5f" stroke="#000" stroke-width="0.9"/>
<circle cx="60.62" cy="279.79" r="2.4" fill="#5f5f5f" stroke="#000" stroke-width="0.9"/>
<circle cx="65.2" cy="272.91" r="2.4" fill="#5f5f5f" stroke="#000" stroke-width="0.9"/>
<circle cx="69.78" cy="267.12" r="2.4" fill="#5f5f5f" stroke="#000" stroke-width="0.9"/>
<circle cx="74.36" cy="260.65" r="2.4" fill="#5f5f5f" stroke="#000" stroke-width="0.9"/>
<circle cx="78.94" cy="254.18" r="2.4" fill="#5f5f5f" stroke="#000" stroke-width="0.9"/>
<circle cx="83.52" cy="248.53" r="2.4" fill="#5f5f5f" stroke="#000" stroke-width="0.9"/>
<circle cx="88.1" cy="242.75" r="2.4" fill="#5f5f5f" stroke="#000" stroke-width="0.9"/>
<circle cx="92.68" cy="237.93" r="2.4" fill="#5f5f5f" stroke="#000" stroke-width="0.9"/>
<circle cx="97.26" cy="233.66" r="2.4" fill="#5f5f5f" stroke="#000" stroke-width="0.9"/>
<circle cx="101.84" cy="230.63" r="2.4" fill="#5f5f5f" stroke="#000" stroke-width="0.9"/>
<circle cx="106.42" cy="228.15" r="2.4" fill="#5f5f5f" stroke="#000" stroke-width="0.9"/>
<circle cx="111" cy="224.02" r="2.4" fill="#5f5f5f" stroke="#000" stroke-width="0.9"/>
<circle cx="115.58" cy="222.23" r="2.4" fill="#5f5f5f" stroke="#000" stroke-width="0.9"/>
<circle cx="120.16" cy="220.17" r="2.4" fill="#5f5f5f" stroke="#000" stroke-width="0.9"/>
<circle cx="124.74" cy="218.1" r="2.4" fill="#5f5f5f" stroke="#000" stroke-width="0.9"/>
<ellipse cx="56.04" cy="282.46" rx="1.45" ry="1.2" fill="#000"/>
<path d="M55.86 276.69L55.26 280.44M56.88 276.69L56.28 280.44M55.02 277.92L57.3 277.92M54.78 279.27L57.06 279.27" stroke="#000" stroke-width="0.96" fill="none"/>
<ellipse cx="60.62" cy="272.27" rx="1.45" ry="1.2" fill="#000"/>
<path d="M60.44 266.5L59.84 270.25M61.46 266.5L60.86 270.25M59.6 267.73L61.88 267.73M59.36 269.08L61.64 269.08" stroke="#000" stroke-width="0.96" fill="none"/>
<ellipse cx="65.2" cy="265.39" rx="1.45" ry="1.2" fill="#000"/>
<path d="M65.02 259.61L64.42 263.36M66.04 259.61L65.44 263.36M64.18 260.85L66.46 260.85M63.94 262.2L66.22 262.2" stroke="#000" stroke-width="0.96" fill="none"/>
<ellipse cx="69.78" cy="259.6" rx="1.45" ry="1.2" fill="#000"/>
<path d="M69.6 253.83L69 257.58M70.62 253.83L70.02 257.58M68.76 255.07L71.04 255.07M68.52 256.42L70.8 256.42" stroke="#000" stroke-width="0.96" fill="none"/>
<ellipse cx="74.36" cy="253.13" rx="1.45" ry="1.2" fill="#000"/>
<path d="M74.18 247.36L73.58 251.11M75.2 247.36L74.6 251.11M73.34 248.59L75.62 248.59M73.1 249.94L75.38 249.94" stroke="#000" stroke-width="0.96" fill="none"/>
<ellipse cx="78.94" cy="246.66" rx="1.45" ry="1.2" fill="#000"/>
<path d="M78.76 240.88L78.16 244.63M79.78 240.88L79.18 244.63M77.92 242.12L80.2 242.12M77.68 243.47L79.96 243.47" stroke="#000" stroke-width="0.96" fill="none"/>
<ellipse cx="83.52" cy="241.01" rx="1.45" ry="1.2" fill="#000"/>
<path d="M83.34 235.24L82.74 238.99M84.36 235.24L83.76 238.99M82.5 236.48L84.78 236.48M82.26 237.83L84.54 237.83" stroke="#000" stroke-width="0.96" fill="none"/>
<ellipse cx="88.1" cy="235.23" rx="1.45" ry="1.2" fill="#000"/>
<path d="M87.92 229.45L87.32 233.2M88.94 229.45L88.34 233.2M87.08 230.69L89.36 230.69M86.84 232.04L89.12 232.04" stroke="#000" stroke-width="0.96" fill="none"/>
<ellipse cx="92.68" cy="230.41" rx="1.45" ry="1.2" fill="#000"/>
<path d="M92.5 224.64L91.9 228.39M93.52 224.64L92.92 228.39M91.66 225.87L93.94 225.87M91.42 227.22L93.7 227.22" stroke="#000" stroke-width="0.96" fill="none"/>
<ellipse cx="97.26" cy="226.14" rx="1.45" ry="1.2" fill="#000"/>
<path d="M97.08 220.37L96.48 224.12M98.1 220.37L97.5 224.12M96.24 221.6L98.52 221.6M96 222.95L98.28 222.95" stroke="#000" stroke-width="0.96" fill="none"/>
<ellipse cx="101.84" cy="223.11" rx="1.45" ry="1.2" fill="#000"/>
<path d="M101.66 217.34L101.06 221.09M102.68 217.34L102.08 221.09M100.82 218.57L103.1 218.57M100.58 219.92L102.86 219.92" stroke="#000" stroke-width="0.96" fill="none"/>
<ellipse cx="106.42" cy="221.32" rx="1.45" ry="1.2" fill="#000"/>
<path d="M106.24 215.55L105.64 219.3M107.26 215.55L106.66 219.3M105.4 216.78L107.68 216.78M105.16 218.13L107.44 218.13" stroke="#000" stroke-width="0.96" fill="none"/>
<ellipse cx="111" cy="217.19" rx="1.45" ry="1.2" fill="#000"/>
<path d="M110.82 211.42L110.22 215.17M111.84 211.42L111.24 215.17M109.98 212.65L112.26 212.65M109.74 214L112.02 214" stroke="#000" stroke-width="0.96" fill="none"/>
<ellipse cx="115.58" cy="215.4" rx="1.45" ry="1.2" fill="#000"/>
<path d="M115.4 209.63L114.8 213.38M116.42 209.63L115.82 213.38M114.56 210.86L116.84 210.86M114.32 212.21L116.6 212.21" stroke="#000" stroke-width="0.96" fill="none"/>
<ellipse cx="120.16" cy="213.34" rx="1.45" ry="1.2" fill="#000"/>
<path d="M119.98 207.56L119.38 211.31M121 207.56L120.4 211.31M119.14 208.8L121.42 208.8M118.9 210.15L121.18 210.15" stroke="#000" stroke-width="0.96" fill="none"/>
<ellipse cx="124.74" cy="211.27" rx="1.45" ry="1.2" fill="#000"/>
<path d="M124.56 205.49L123.96 209.24M125.58 205.49L124.98 209.24M123.72 206.73L126 206.73M123.48 208.08L125.76 208.08" stroke="#000" stroke-width="0.96" fill="none"/>
<ellipse cx="56.04" cy="313.71" rx="1.45" ry="1.2" fill="#000"/>
<ellipse cx="60.62" cy="306.27" rx="1.45" ry="1.2" fill="#000"/>
<ellipse cx="65.2" cy="298.15" rx="1.45" ry="1.2" fill="#000"/>
<ellipse cx="69.78" cy="291.13" rx="1.45" ry="1.2" fill="#000"/>
<ellipse cx="74.36" cy="285.62" rx="1.45" ry="1.2" fill="#000"/>
<ellipse cx="78.94" cy="280.11" rx="1.45" ry="1.2" fill="#000"/>
<ellipse cx="83.52" cy="274.74" rx="1.45" ry="1.2" fill="#000"/>
<ellipse cx="88.1" cy="269.37" rx="1.45" ry="1.2" fill="#000"/>
<ellipse cx="92.68" cy="264.96" rx="1.45" ry="1.2" fill="#000"/>
<ellipse cx="97.26" cy="260.15" rx="1.45" ry="1.2" fill="#000"/>
<ellipse cx="101.84" cy="256.84" rx="1.45" ry="1.2" fill="#000"/>
<ellipse cx="106.42" cy="253.26" rx="1.45" ry="1.2" fill="#000"/>
<ellipse cx="111" cy="249.68" rx="1.45" ry="1.2" fill="#000"/>
<ellipse cx="115.58" cy="246.65" rx="1.45" ry="1.2" fill="#000"/>
<ellipse cx="120.16" cy="244.59" rx="1.45" ry="1.2" fill="#000"/>
<ellipse cx="124.74" cy="242.24" rx="1.45" ry="1.2" fill="#000"/>
<line x1="73.6" y1="313.8" x2="87.2" y2="313.8" stroke="#000" stroke-width="0.9"/>
<circle cx="80.6" cy="313.8" r="2.5" fill="#5f5f5f" stroke="#000" stroke-width="0.9"/>
<text x="95.1" y="317.02" font-size="8.6" font-weight="bold" text-anchor="start" stroke="#000" stroke-width="0.1" textLength="53.2" lengthAdjust="spacingAndGlyphs" fill="#000">Obese 3T3-L1</text>
<line x1="73.6" y1="323.5" x2="87.2" y2="323.5" stroke="#000" stroke-width="0.9"/>
<circle cx="80.6" cy="323.5" r="2.5" fill="#dcdcdc" stroke="#000" stroke-width="0.9"/>
<text x="95.1" y="326.72" font-size="8.6" font-weight="bold" text-anchor="start" stroke="#000" stroke-width="0.1" textLength="46.5" lengthAdjust="spacingAndGlyphs" fill="#000">Lean 3T3-L1</text>
<line x1="73.6" y1="333.3" x2="87.2" y2="333.3" stroke="#000" stroke-width="0.9"/>
<circle cx="80.6" cy="333.3" r="2.5" fill="#ffffff" stroke="#000" stroke-width="0.9"/>
<text x="95.1" y="336.52" font-size="8.6" font-weight="bold" text-anchor="start" stroke="#000" stroke-width="0.1" textLength="29.9" lengthAdjust="spacingAndGlyphs" fill="#000">Isolation</text>
<text x="167.05" y="207" font-size="21.8" font-weight="bold" text-anchor="start" stroke="#000" stroke-width="0.55" textLength="13.47" lengthAdjust="spacingAndGlyphs" fill="#000">E</text>
<line x1="201.8" y1="213.9" x2="201.8" y2="338.55" stroke="#000" stroke-width="1.9"/>
<line x1="200.85" y1="337.6" x2="285.7" y2="337.6" stroke="#000" stroke-width="1.9"/>
<line x1="198" y1="337.6" x2="201.8" y2="337.6" stroke="#000" stroke-width="1.4"/>
<text x="197" y="341.16" font-size="9.5" font-weight="bold" text-anchor="end" stroke="#000" stroke-width="0.45" textLength="5.25" lengthAdjust="spacingAndGlyphs" fill="#000">0</text>
<line x1="198" y1="306.85" x2="201.8" y2="306.85" stroke="#000" stroke-width="1.4"/>
<text x="197" y="310.41" font-size="9.5" font-weight="bold" text-anchor="end" stroke="#000" stroke-width="0.45" textLength="10.5" lengthAdjust="spacingAndGlyphs" fill="#000">10</text>
<line x1="198" y1="276.1" x2="201.8" y2="276.1" stroke="#000" stroke-width="1.4"/>
<text x="197" y="279.66" font-size="9.5" font-weight="bold" text-anchor="end" stroke="#000" stroke-width="0.45" textLength="10.5" lengthAdjust="spacingAndGlyphs" fill="#000">20</text>
<line x1="198" y1="245.35" x2="201.8" y2="245.35" stroke="#000" stroke-width="1.4"/>
<text x="197" y="248.91" font-size="9.5" font-weight="bold" text-anchor="end" stroke="#000" stroke-width="0.45" textLength="10.5" lengthAdjust="spacingAndGlyphs" fill="#000">30</text>
<line x1="198" y1="214.6" x2="201.8" y2="214.6" stroke="#000" stroke-width="1.4"/>
<text x="197" y="218.16" font-size="9.5" font-weight="bold" text-anchor="end" stroke="#000" stroke-width="0.45" textLength="10.5" lengthAdjust="spacingAndGlyphs" fill="#000">40</text>
<text x="167.6" y="275.45" font-size="10.3" font-weight="bold" text-anchor="middle" stroke="#000" stroke-width="0.45" textLength="99.9" lengthAdjust="spacingAndGlyphs" transform="rotate(-90 167.6 275.45)" fill="#000">MDA-MB-231 time to</text>
<text x="180" y="276" font-size="10.3" text-anchor="middle" textLength="114.2" lengthAdjust="spacingAndGlyphs" transform="rotate(-90 180 276)"><tspan font-weight="bold" stroke="#000" stroke-width="0.45">50 % wound closure </tspan><tspan font-weight="normal" stroke="#000" stroke-width="0.3">(h)</tspan></text>
<rect x="206.9" y="227.61" width="17.7" height="109.99" fill="#ffffff" stroke="#555" stroke-width="1.3"/>
<line x1="215.75" y1="220.9" x2="215.75" y2="234.31" stroke="#000" stroke-width="1.2"/>
<line x1="211.25" y1="220.9" x2="220.25" y2="220.9" stroke="#000" stroke-width="1.2"/>
<line x1="211.25" y1="234.31" x2="220.25" y2="234.31" stroke="#000" stroke-width="1.2"/>
<line x1="215.75" y1="337.6" x2="215.75" y2="341.4" stroke="#000" stroke-width="1.4"/>
<rect x="234.6" y="273.49" width="17.6" height="64.11" fill="#d4d4d4" stroke="#555" stroke-width="1.3"/>
<line x1="243.4" y1="267.4" x2="243.4" y2="279.57" stroke="#000" stroke-width="1.2"/>
<line x1="238.9" y1="267.4" x2="247.9" y2="267.4" stroke="#000" stroke-width="1.2"/>
<line x1="238.9" y1="279.57" x2="247.9" y2="279.57" stroke="#000" stroke-width="1.2"/>
<line x1="243.4" y1="337.6" x2="243.4" y2="341.4" stroke="#000" stroke-width="1.4"/>
<rect x="262" y="297.19" width="17.5" height="40.41" fill="#5e5e5e" stroke="#555" stroke-width="1.3"/>
<line x1="270.75" y1="291.41" x2="270.75" y2="302.98" stroke="#000" stroke-width="1.2"/>
<line x1="266.25" y1="291.41" x2="275.25" y2="291.41" stroke="#000" stroke-width="1.2"/>
<line x1="266.25" y1="302.98" x2="275.25" y2="302.98" stroke="#000" stroke-width="1.2"/>
<line x1="270.75" y1="337.6" x2="270.75" y2="341.4" stroke="#000" stroke-width="1.4"/>
<line x1="200.85" y1="337.6" x2="285.2" y2="337.6" stroke="#000" stroke-width="1.9"/>
<ellipse cx="243.3" cy="262.3" rx="1.5" ry="1.3" fill="#000"/>
<path d="M270.29 276.5L269.59 280.5M271.48 276.5L270.78 280.5M269.31 277.82L271.97 277.82M269.03 279.26L271.69 279.26" stroke="#000" stroke-width="0.99" fill="none"/>
<ellipse cx="270.5" cy="287" rx="1.5" ry="1.3" fill="#000"/>
<text x="217.6" y="352.2" font-size="10" font-weight="bold" text-anchor="end" stroke="#000" stroke-width="0.5" textLength="36" lengthAdjust="spacingAndGlyphs" transform="rotate(-45 217.6 352.2)" fill="#000">Isolation</text>
<text x="246.4" y="350.2" font-size="10" font-weight="bold" text-anchor="end" stroke="#000" stroke-width="0.5" textLength="54" lengthAdjust="spacingAndGlyphs" transform="rotate(-45 246.4 350.2)" fill="#000">Lean 3T3-L1</text>
<text x="273.7" y="349.2" font-size="10" font-weight="bold" text-anchor="end" stroke="#000" stroke-width="0.5" textLength="60.5" lengthAdjust="spacingAndGlyphs" transform="rotate(-45 273.7 349.2)" fill="#000">Obese 3T3-L1</text>
<text x="307.75" y="206.9" font-size="21.8" font-weight="bold" text-anchor="start" stroke="#000" stroke-width="0.55" textLength="12.34" lengthAdjust="spacingAndGlyphs" fill="#000">F</text>
<line x1="334.7" y1="213.5" x2="334.7" y2="338.85" stroke="#000" stroke-width="1.9"/>
<line x1="333.75" y1="337.9" x2="417.4" y2="337.9" stroke="#000" stroke-width="1.9"/>
<line x1="330.9" y1="337.9" x2="334.7" y2="337.9" stroke="#000" stroke-width="1.4"/>
<text x="329.9" y="341.46" font-size="9.5" font-weight="bold" text-anchor="end" stroke="#000" stroke-width="0.45" textLength="5.25" lengthAdjust="spacingAndGlyphs" fill="#000">0</text>
<line x1="330.9" y1="283" x2="334.7" y2="283" stroke="#000" stroke-width="1.4"/>
<text x="329.9" y="286.56" font-size="9.5" font-weight="bold" text-anchor="end" stroke="#000" stroke-width="0.45" textLength="5.25" lengthAdjust="spacingAndGlyphs" fill="#000">2</text>
<line x1="330.9" y1="228.1" x2="334.7" y2="228.1" stroke="#000" stroke-width="1.4"/>
<text x="329.9" y="231.66" font-size="9.5" font-weight="bold" text-anchor="end" stroke="#000" stroke-width="0.45" textLength="5.25" lengthAdjust="spacingAndGlyphs" fill="#000">4</text>
<line x1="334.7" y1="337.9" x2="334.7" y2="341.7" stroke="#000" stroke-width="1.4"/>
<text x="334.7" y="351.7" font-size="9.8" font-weight="bold" text-anchor="middle" stroke="#000" stroke-width="0.45" textLength="5.25" lengthAdjust="spacingAndGlyphs" fill="#000">0</text>
<line x1="362.04" y1="337.9" x2="362.04" y2="341.7" stroke="#000" stroke-width="1.4"/>
<text x="362.04" y="351.7" font-size="9.8" font-weight="bold" text-anchor="middle" stroke="#000" stroke-width="0.45" textLength="10.5" lengthAdjust="spacingAndGlyphs" fill="#000">20</text>
<line x1="389.38" y1="337.9" x2="389.38" y2="341.7" stroke="#000" stroke-width="1.4"/>
<text x="389.38" y="351.7" font-size="9.8" font-weight="bold" text-anchor="middle" stroke="#000" stroke-width="0.45" textLength="10.5" lengthAdjust="spacingAndGlyphs" fill="#000">40</text>
<line x1="416.72" y1="337.9" x2="416.72" y2="341.7" stroke="#000" stroke-width="1.4"/>
<text x="416.72" y="351.7" font-size="9.8" font-weight="bold" text-anchor="middle" stroke="#000" stroke-width="0.45" textLength="10.5" lengthAdjust="spacingAndGlyphs" fill="#000">60</text>
<text x="305.3" y="274.9" font-size="10" font-weight="bold" text-anchor="middle" stroke="#000" stroke-width="0.45" textLength="110" lengthAdjust="spacingAndGlyphs" transform="rotate(-90 305.3 274.9)" fill="#000">MCF-7 cell confluency</text>
<text x="316.3" y="275.7" font-size="10" font-weight="bold" text-anchor="middle" stroke="#000" stroke-width="0.1" textLength="83" lengthAdjust="spacingAndGlyphs" transform="rotate(-90 316.3 275.7)" fill="#000">(fold over starting)</text>
<text x="376.1" y="366.3" font-size="9.6" text-anchor="middle" textLength="39.4" lengthAdjust="spacingAndGlyphs"><tspan font-weight="bold" stroke="#000" stroke-width="0.45">Time</tspan><tspan font-weight="normal" stroke="#000" stroke-width="0.45"> (h)</tspan></text>
<polyline points="334.7,310.45 345.64,306.06 356.57,302.21 367.51,299.47 383.91,295.08 400.32,291.23 416.72,284.92" fill="none" stroke="#000" stroke-width="0.9" stroke-linejoin="round"/>
<polyline points="334.7,310.45 345.64,299.47 356.57,286.84 367.51,273.67 383.91,256.65 400.32,241 416.72,230.3" fill="none" stroke="#000" stroke-width="0.95" stroke-linejoin="round"/>
<polyline points="334.7,310.45 345.64,300.02 356.57,288.49 367.51,274.76 383.91,258.29 400.32,244.02 416.72,233.86" fill="none" stroke="#000" stroke-width="0.95" stroke-linejoin="round"/>
<line x1="345.64" y1="305.23" x2="345.64" y2="306.88" stroke="#000" stroke-width="0.8"/>
<line x1="343.34" y1="305.23" x2="347.94" y2="305.23" stroke="#000" stroke-width="0.8"/>
<line x1="343.34" y1="306.88" x2="347.94" y2="306.88" stroke="#000" stroke-width="0.8"/>
<line x1="356.57" y1="301.39" x2="356.57" y2="303.04" stroke="#000" stroke-width="0.8"/>
<line x1="354.27" y1="301.39" x2="358.87" y2="301.39" stroke="#000" stroke-width="0.8"/>
<line x1="354.27" y1="303.04" x2="358.87" y2="303.04" stroke="#000" stroke-width="0.8"/>
<line x1="367.51" y1="298.65" x2="367.51" y2="300.29" stroke="#000" stroke-width="0.8"/>
<line x1="365.21" y1="298.65" x2="369.81" y2="298.65" stroke="#000" stroke-width="0.8"/>
<line x1="365.21" y1="300.29" x2="369.81" y2="300.29" stroke="#000" stroke-width="0.8"/>
<line x1="383.91" y1="294.25" x2="383.91" y2="295.9" stroke="#000" stroke-width="0.8"/>
<line x1="381.61" y1="294.25" x2="386.21" y2="294.25" stroke="#000" stroke-width="0.8"/>
<line x1="381.61" y1="295.9" x2="386.21" y2="295.9" stroke="#000" stroke-width="0.8"/>
<line x1="400.32" y1="290.14" x2="400.32" y2="292.33" stroke="#000" stroke-width="0.8"/>
<line x1="398.02" y1="290.14" x2="402.62" y2="290.14" stroke="#000" stroke-width="0.8"/>
<line x1="398.02" y1="292.33" x2="402.62" y2="292.33" stroke="#000" stroke-width="0.8"/>
<line x1="416.72" y1="282.73" x2="416.72" y2="287.12" stroke="#000" stroke-width="0.8"/>
<line x1="414.42" y1="282.73" x2="419.02" y2="282.73" stroke="#000" stroke-width="0.8"/>
<line x1="414.42" y1="287.12" x2="419.02" y2="287.12" stroke="#000" stroke-width="0.8"/>
<circle cx="334.7" cy="310.45" r="2.5" fill="#ffffff" stroke="#000" stroke-width="1"/>
<circle cx="345.64" cy="306.06" r="2.5" fill="#ffffff" stroke="#000" stroke-width="1"/>
<circle cx="356.57" cy="302.21" r="2.5" fill="#ffffff" stroke="#000" stroke-width="1"/>
<circle cx="367.51" cy="299.47" r="2.5" fill="#ffffff" stroke="#000" stroke-width="1"/>
<circle cx="383.91" cy="295.08" r="2.5" fill="#ffffff" stroke="#000" stroke-width="1"/>
<circle cx="400.32" cy="291.23" r="2.5" fill="#ffffff" stroke="#000" stroke-width="1"/>
<circle cx="416.72" cy="284.92" r="2.5" fill="#ffffff" stroke="#000" stroke-width="1"/>
<line x1="345.64" y1="298.1" x2="345.64" y2="300.84" stroke="#000" stroke-width="0.8"/>
<line x1="343.34" y1="298.1" x2="347.94" y2="298.1" stroke="#000" stroke-width="0.8"/>
<line x1="343.34" y1="300.84" x2="347.94" y2="300.84" stroke="#000" stroke-width="0.8"/>
<line x1="356.57" y1="282.73" x2="356.57" y2="290.96" stroke="#000" stroke-width="0.8"/>
<line x1="354.27" y1="282.73" x2="358.87" y2="282.73" stroke="#000" stroke-width="0.8"/>
<line x1="354.27" y1="290.96" x2="358.87" y2="290.96" stroke="#000" stroke-width="0.8"/>
<line x1="367.51" y1="265.43" x2="367.51" y2="281.9" stroke="#000" stroke-width="0.8"/>
<line x1="365.21" y1="265.43" x2="369.81" y2="265.43" stroke="#000" stroke-width="0.8"/>
<line x1="365.21" y1="281.9" x2="369.81" y2="281.9" stroke="#000" stroke-width="0.8"/>
<line x1="383.91" y1="244.84" x2="383.91" y2="268.45" stroke="#000" stroke-width="0.8"/>
<line x1="381.61" y1="244.84" x2="386.21" y2="244.84" stroke="#000" stroke-width="0.8"/>
<line x1="381.61" y1="268.45" x2="386.21" y2="268.45" stroke="#000" stroke-width="0.8"/>
<line x1="400.32" y1="225.9" x2="400.32" y2="256.1" stroke="#000" stroke-width="0.8"/>
<line x1="398.02" y1="225.9" x2="402.62" y2="225.9" stroke="#000" stroke-width="0.8"/>
<line x1="398.02" y1="256.1" x2="402.62" y2="256.1" stroke="#000" stroke-width="0.8"/>
<line x1="416.72" y1="216.57" x2="416.72" y2="244.02" stroke="#000" stroke-width="0.8"/>
<line x1="414.42" y1="216.57" x2="419.02" y2="216.57" stroke="#000" stroke-width="0.8"/>
<line x1="414.42" y1="244.02" x2="419.02" y2="244.02" stroke="#000" stroke-width="0.8"/>
<circle cx="334.7" cy="310.45" r="2.5" fill="#5f5f5f" stroke="#000" stroke-width="1"/>
<circle cx="345.64" cy="299.47" r="2.5" fill="#5f5f5f" stroke="#000" stroke-width="1"/>
<circle cx="356.57" cy="286.84" r="2.5" fill="#5f5f5f" stroke="#000" stroke-width="1"/>
<circle cx="367.51" cy="273.67" r="2.5" fill="#5f5f5f" stroke="#000" stroke-width="1"/>
<circle cx="383.91" cy="256.65" r="2.5" fill="#5f5f5f" stroke="#000" stroke-width="1"/>
<circle cx="400.32" cy="241" r="2.5" fill="#5f5f5f" stroke="#000" stroke-width="1"/>
<circle cx="416.72" cy="230.3" r="2.5" fill="#5f5f5f" stroke="#000" stroke-width="1"/>
<line x1="345.64" y1="298.65" x2="345.64" y2="301.39" stroke="#777" stroke-width="0.8"/>
<line x1="343.34" y1="298.65" x2="347.94" y2="298.65" stroke="#777" stroke-width="0.8"/>
<line x1="343.34" y1="301.39" x2="347.94" y2="301.39" stroke="#777" stroke-width="0.8"/>
<line x1="356.57" y1="285.2" x2="356.57" y2="291.78" stroke="#777" stroke-width="0.8"/>
<line x1="354.27" y1="285.2" x2="358.87" y2="285.2" stroke="#777" stroke-width="0.8"/>
<line x1="354.27" y1="291.78" x2="358.87" y2="291.78" stroke="#777" stroke-width="0.8"/>
<line x1="367.51" y1="268.73" x2="367.51" y2="280.8" stroke="#777" stroke-width="0.8"/>
<line x1="365.21" y1="268.73" x2="369.81" y2="268.73" stroke="#777" stroke-width="0.8"/>
<line x1="365.21" y1="280.8" x2="369.81" y2="280.8" stroke="#777" stroke-width="0.8"/>
<line x1="383.91" y1="248.69" x2="383.91" y2="267.9" stroke="#777" stroke-width="0.8"/>
<line x1="381.61" y1="248.69" x2="386.21" y2="248.69" stroke="#777" stroke-width="0.8"/>
<line x1="381.61" y1="267.9" x2="386.21" y2="267.9" stroke="#777" stroke-width="0.8"/>
<line x1="400.32" y1="231.67" x2="400.32" y2="256.37" stroke="#777" stroke-width="0.8"/>
<line x1="398.02" y1="231.67" x2="402.62" y2="231.67" stroke="#777" stroke-width="0.8"/>
<line x1="398.02" y1="256.37" x2="402.62" y2="256.37" stroke="#777" stroke-width="0.8"/>
<line x1="416.72" y1="218.77" x2="416.72" y2="248.96" stroke="#777" stroke-width="0.8"/>
<line x1="414.42" y1="218.77" x2="419.02" y2="218.77" stroke="#777" stroke-width="0.8"/>
<line x1="414.42" y1="248.96" x2="419.02" y2="248.96" stroke="#777" stroke-width="0.8"/>
<circle cx="334.7" cy="310.45" r="2.5" fill="#c8c8c8" stroke="#000" stroke-width="1"/>
<circle cx="345.64" cy="300.02" r="2.5" fill="#c8c8c8" stroke="#000" stroke-width="1"/>
<circle cx="356.57" cy="288.49" r="2.5" fill="#c8c8c8" stroke="#000" stroke-width="1"/>
<circle cx="367.51" cy="274.76" r="2.5" fill="#c8c8c8" stroke="#000" stroke-width="1"/>
<circle cx="383.91" cy="258.29" r="2.5" fill="#c8c8c8" stroke="#000" stroke-width="1"/>
<circle cx="400.32" cy="244.02" r="2.5" fill="#c8c8c8" stroke="#000" stroke-width="1"/>
<circle cx="416.72" cy="233.86" r="2.5" fill="#c8c8c8" stroke="#000" stroke-width="1"/>
<ellipse cx="356.57" cy="275.8" rx="1.45" ry="1.2" fill="#000"/>
<ellipse cx="367.51" cy="259.7" rx="1.45" ry="1.2" fill="#000"/>
<ellipse cx="383.91" cy="239" rx="1.45" ry="1.2" fill="#000"/>
<ellipse cx="400.32" cy="223" rx="1.45" ry="1.2" fill="#000"/>
<ellipse cx="416.72" cy="211" rx="1.45" ry="1.2" fill="#000"/>
<ellipse cx="356.57" cy="295.7" rx="1.45" ry="1.2" fill="#000"/>
<ellipse cx="367.51" cy="286" rx="1.45" ry="1.2" fill="#000"/>
<ellipse cx="383.91" cy="271.2" rx="1.45" ry="1.2" fill="#000"/>
<ellipse cx="400.32" cy="262" rx="1.45" ry="1.2" fill="#000"/>
<ellipse cx="416.72" cy="253.3" rx="1.45" ry="1.2" fill="#000"/>
<line x1="349" y1="313.7" x2="362.9" y2="313.7" stroke="#000" stroke-width="0.9"/>
<circle cx="356.2" cy="313.7" r="2.7" fill="#5f5f5f" stroke="#000" stroke-width="0.9"/>
<text x="370.3" y="317.12" font-size="8.6" font-weight="bold" text-anchor="start" stroke="#000" stroke-width="0.1" textLength="52" lengthAdjust="spacingAndGlyphs" fill="#000">Obese 3T3-L1</text>
<line x1="349" y1="322.2" x2="362.9" y2="322.2" stroke="#000" stroke-width="0.9"/>
<circle cx="356.2" cy="322.2" r="2.7" fill="#c8c8c8" stroke="#000" stroke-width="0.9"/>
<text x="370.3" y="325.62" font-size="8.6" font-weight="bold" text-anchor="start" stroke="#000" stroke-width="0.1" textLength="45.5" lengthAdjust="spacingAndGlyphs" fill="#000">Lean 3T3-L1</text>
<line x1="349" y1="331.1" x2="362.9" y2="331.1" stroke="#000" stroke-width="0.9"/>
<circle cx="356.2" cy="331.1" r="2.7" fill="#ffffff" stroke="#000" stroke-width="0.9"/>
<text x="370.3" y="334.52" font-size="8.6" font-weight="bold" text-anchor="start" stroke="#000" stroke-width="0.1" textLength="30.6" lengthAdjust="spacingAndGlyphs" fill="#000">Isolation</text>
<text x="448.27" y="206.8" font-size="21.8" font-weight="bold" text-anchor="start" stroke="#000" stroke-width="0.55" textLength="15.72" lengthAdjust="spacingAndGlyphs" fill="#000">G</text>
<line x1="476.7" y1="214.1" x2="476.7" y2="338.55" stroke="#000" stroke-width="1.9"/>
<line x1="475.75" y1="337.6" x2="559.7" y2="337.6" stroke="#000" stroke-width="1.9"/>
<line x1="472.9" y1="337.6" x2="476.7" y2="337.6" stroke="#000" stroke-width="1.4"/>
<text x="471.9" y="341.16" font-size="9.5" font-weight="bold" text-anchor="end" stroke="#000" stroke-width="0.45" textLength="5.25" lengthAdjust="spacingAndGlyphs" fill="#000">0</text>
<line x1="472.9" y1="294.4" x2="476.7" y2="294.4" stroke="#000" stroke-width="1.4"/>
<text x="471.9" y="297.96" font-size="9.5" font-weight="bold" text-anchor="end" stroke="#000" stroke-width="0.45" textLength="15.75" lengthAdjust="spacingAndGlyphs" fill="#000">100</text>
<line x1="472.9" y1="251.2" x2="476.7" y2="251.2" stroke="#000" stroke-width="1.4"/>
<text x="471.9" y="254.76" font-size="9.5" font-weight="bold" text-anchor="end" stroke="#000" stroke-width="0.45" textLength="15.75" lengthAdjust="spacingAndGlyphs" fill="#000">200</text>
<line x1="476.7" y1="337.6" x2="476.7" y2="341.4" stroke="#000" stroke-width="1.4"/>
<text x="476.7" y="351.4" font-size="9.8" font-weight="bold" text-anchor="middle" stroke="#000" stroke-width="0.45" textLength="5.25" lengthAdjust="spacingAndGlyphs" fill="#000">0</text>
<line x1="504.16" y1="337.6" x2="504.16" y2="341.4" stroke="#000" stroke-width="1.4"/>
<text x="504.16" y="351.4" font-size="9.8" font-weight="bold" text-anchor="middle" stroke="#000" stroke-width="0.45" textLength="10.5" lengthAdjust="spacingAndGlyphs" fill="#000">24</text>
<line x1="531.61" y1="337.6" x2="531.61" y2="341.4" stroke="#000" stroke-width="1.4"/>
<text x="531.61" y="351.4" font-size="9.8" font-weight="bold" text-anchor="middle" stroke="#000" stroke-width="0.45" textLength="10.5" lengthAdjust="spacingAndGlyphs" fill="#000">48</text>
<line x1="559.07" y1="337.6" x2="559.07" y2="341.4" stroke="#000" stroke-width="1.4"/>
<text x="559.07" y="351.4" font-size="9.8" font-weight="bold" text-anchor="middle" stroke="#000" stroke-width="0.45" textLength="10.5" lengthAdjust="spacingAndGlyphs" fill="#000">72</text>
<text x="449" y="275.4" font-size="10.3" font-weight="bold" text-anchor="middle" textLength="115.8" lengthAdjust="spacingAndGlyphs" transform="rotate(-90 449 275.4)"><tspan stroke="#000" stroke-width="0.45">MCF-7 MTT </tspan><tspan stroke="#000" stroke-width="0.1">(% of day 0)</tspan></text>
<text x="518" y="366.1" font-size="9.6" text-anchor="middle" textLength="38.7" lengthAdjust="spacingAndGlyphs"><tspan font-weight="bold" stroke="#000" stroke-width="0.45">Time</tspan><tspan font-weight="normal" stroke="#000" stroke-width="0.45"> (h)</tspan></text>
<polyline points="476.7,294.4 504.16,278.85 531.61,260.7 559.07,233.49" fill="none" stroke="#555" stroke-width="0.7" stroke-linejoin="round"/>
<polyline points="476.7,294.4 504.16,263.3 531.61,252.06 559.07,220.96" fill="none" stroke="#000" stroke-width="1.05" stroke-linejoin="round"/>
<polyline points="476.7,294.4 504.16,280.14 531.61,281.87 559.07,273.23" fill="none" stroke="#000" stroke-width="1" stroke-linejoin="round"/>
<line x1="476.7" y1="290.08" x2="476.7" y2="298.72" stroke="#000" stroke-width="0.8"/>
<line x1="474.5" y1="290.08" x2="478.9" y2="290.08" stroke="#000" stroke-width="0.8"/>
<line x1="474.5" y1="298.72" x2="478.9" y2="298.72" stroke="#000" stroke-width="0.8"/>
<line x1="504.16" y1="278.42" x2="504.16" y2="281.87" stroke="#000" stroke-width="0.8"/>
<line x1="501.96" y1="278.42" x2="506.36" y2="278.42" stroke="#000" stroke-width="0.8"/>
<line x1="501.96" y1="281.87" x2="506.36" y2="281.87" stroke="#000" stroke-width="0.8"/>
<line x1="531.61" y1="278.42" x2="531.61" y2="285.33" stroke="#000" stroke-width="0.8"/>
<line x1="529.41" y1="278.42" x2="533.81" y2="278.42" stroke="#000" stroke-width="0.8"/>
<line x1="529.41" y1="285.33" x2="533.81" y2="285.33" stroke="#000" stroke-width="0.8"/>
<line x1="559.07" y1="269.78" x2="559.07" y2="276.69" stroke="#000" stroke-width="0.8"/>
<line x1="556.87" y1="269.78" x2="561.27" y2="269.78" stroke="#000" stroke-width="0.8"/>
<line x1="556.87" y1="276.69" x2="561.27" y2="276.69" stroke="#000" stroke-width="0.8"/>
<circle cx="476.7" cy="294.4" r="2.4" fill="#ffffff" stroke="#000" stroke-width="0.9"/>
<circle cx="504.16" cy="280.14" r="2.4" fill="#ffffff" stroke="#000" stroke-width="0.9"/>
<circle cx="531.61" cy="281.87" r="2.4" fill="#ffffff" stroke="#000" stroke-width="0.9"/>
<circle cx="559.07" cy="273.23" r="2.4" fill="#ffffff" stroke="#000" stroke-width="0.9"/>
<line x1="476.7" y1="290.08" x2="476.7" y2="298.72" stroke="#000" stroke-width="0.8"/>
<line x1="474.5" y1="290.08" x2="478.9" y2="290.08" stroke="#000" stroke-width="0.8"/>
<line x1="474.5" y1="298.72" x2="478.9" y2="298.72" stroke="#000" stroke-width="0.8"/>
<line x1="504.16" y1="276.69" x2="504.16" y2="281.01" stroke="#000" stroke-width="0.8"/>
<line x1="501.96" y1="276.69" x2="506.36" y2="276.69" stroke="#000" stroke-width="0.8"/>
<line x1="501.96" y1="281.01" x2="506.36" y2="281.01" stroke="#000" stroke-width="0.8"/>
<line x1="531.61" y1="254.66" x2="531.61" y2="266.75" stroke="#000" stroke-width="0.8"/>
<line x1="529.41" y1="254.66" x2="533.81" y2="254.66" stroke="#000" stroke-width="0.8"/>
<line x1="529.41" y1="266.75" x2="533.81" y2="266.75" stroke="#000" stroke-width="0.8"/>
<line x1="559.07" y1="230.03" x2="559.07" y2="236.94" stroke="#000" stroke-width="0.8"/>
<line x1="556.87" y1="230.03" x2="561.27" y2="230.03" stroke="#000" stroke-width="0.8"/>
<line x1="556.87" y1="236.94" x2="561.27" y2="236.94" stroke="#000" stroke-width="0.8"/>
<rect x="474.9" y="292.6" width="3.6" height="3.6" fill="#888" stroke="#000" stroke-width="0.9"/>
<rect x="502.36" y="277.05" width="3.6" height="3.6" fill="#888" stroke="#000" stroke-width="0.9"/>
<rect x="529.81" y="258.9" width="3.6" height="3.6" fill="#888" stroke="#000" stroke-width="0.9"/>
<rect x="557.27" y="231.69" width="3.6" height="3.6" fill="#888" stroke="#000" stroke-width="0.9"/>
<line x1="476.7" y1="290.08" x2="476.7" y2="298.72" stroke="#000" stroke-width="0.8"/>
<line x1="474.5" y1="290.08" x2="478.9" y2="290.08" stroke="#000" stroke-width="0.8"/>
<line x1="474.5" y1="298.72" x2="478.9" y2="298.72" stroke="#000" stroke-width="0.8"/>
<line x1="504.16" y1="260.7" x2="504.16" y2="265.89" stroke="#000" stroke-width="0.8"/>
<line x1="501.96" y1="260.7" x2="506.36" y2="260.7" stroke="#000" stroke-width="0.8"/>
<line x1="501.96" y1="265.89" x2="506.36" y2="265.89" stroke="#000" stroke-width="0.8"/>
<line x1="531.61" y1="246.45" x2="531.61" y2="257.68" stroke="#000" stroke-width="0.8"/>
<line x1="529.41" y1="246.45" x2="533.81" y2="246.45" stroke="#000" stroke-width="0.8"/>
<line x1="529.41" y1="257.68" x2="533.81" y2="257.68" stroke="#000" stroke-width="0.8"/>
<line x1="559.07" y1="216.64" x2="559.07" y2="225.28" stroke="#000" stroke-width="0.8"/>
<line x1="556.87" y1="216.64" x2="561.27" y2="216.64" stroke="#000" stroke-width="0.8"/>
<line x1="556.87" y1="225.28" x2="561.27" y2="225.28" stroke="#000" stroke-width="0.8"/>
<circle cx="476.7" cy="294.4" r="2.1" fill="#ffffff" stroke="#000" stroke-width="0.9"/>
<circle cx="504.16" cy="263.3" r="2.1" fill="#ffffff" stroke="#000" stroke-width="0.9"/>
<circle cx="531.61" cy="252.06" r="2.1" fill="#ffffff" stroke="#000" stroke-width="0.9"/>
<circle cx="559.07" cy="220.96" r="2.1" fill="#ffffff" stroke="#000" stroke-width="0.9"/>
<ellipse cx="504.16" cy="256" rx="1.45" ry="1.2" fill="#000"/>
<ellipse cx="531.61" cy="240.6" rx="1.45" ry="1.2" fill="#000"/>
<ellipse cx="531.61" cy="270.4" rx="1.45" ry="1.2" fill="#000"/>
<ellipse cx="559.07" cy="211.9" rx="1.45" ry="1.2" fill="#000"/>
<ellipse cx="559.07" cy="241" rx="1.45" ry="1.2" fill="#000"/>
<line x1="499.8" y1="310.4" x2="513.6" y2="310.4" stroke="#000" stroke-width="0.9"/>
<circle cx="506.6" cy="310.4" r="1.9" fill="#666" stroke="#000" stroke-width="0.9"/>
<text x="521" y="313.62" font-size="8.6" font-weight="bold" text-anchor="start" stroke="#000" stroke-width="0.1" textLength="40.3" lengthAdjust="spacingAndGlyphs" fill="#000">Obese CM</text>
<line x1="499.8" y1="318.8" x2="513.6" y2="318.8" stroke="#000" stroke-width="0.9"/>
<circle cx="506.6" cy="318.8" r="1.9" fill="#ffffff" stroke="#000" stroke-width="0.9"/>
<text x="521" y="322.02" font-size="8.6" font-weight="bold" text-anchor="start" stroke="#000" stroke-width="0.1" textLength="34.5" lengthAdjust="spacingAndGlyphs" fill="#000">Lean CM</text>
<line x1="499.8" y1="327.5" x2="513.6" y2="327.5" stroke="#000" stroke-width="0.9"/>
<circle cx="506.6" cy="327.5" r="2.1" fill="#ffffff" stroke="#000" stroke-width="0.9"/>
<text x="521" y="330.72" font-size="8.6" font-weight="bold" text-anchor="start" stroke="#000" stroke-width="0.1" textLength="46" lengthAdjust="spacingAndGlyphs" fill="#000">Basal Media</text>
</svg>
</body></html>
